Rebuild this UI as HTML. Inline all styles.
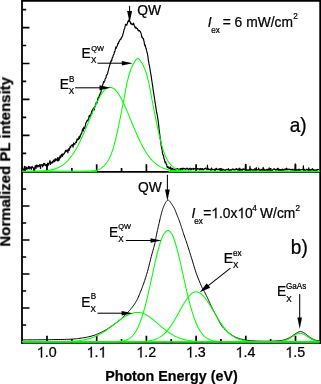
<!DOCTYPE html>
<html><head><meta charset="utf-8"><style>
html,body{margin:0;padding:0;background:#fff;}
svg{display:block;}
text{font-family:"Liberation Sans",sans-serif;fill:#000;}
.tx{filter:grayscale(1);}
.tx text,.tx path{stroke:#000;stroke-width:0.25px;}
</style></head><body>
<svg width="321" height="384" viewBox="0 0 321 384">
<rect width="321" height="384" fill="#fff"/>
<path d="M22,153.33h4.2 M22,325.00h4.2 M22,135.36h7.5 M22,308.00h7.5 M22,117.39h4.2 M22,291.00h4.2 M22,99.42h7.5 M22,274.00h7.5 M22,81.45h4.2 M22,257.00h4.2 M22,63.48h7.5 M22,240.00h7.5 M22,45.51h4.2 M22,223.00h4.2 M22,27.54h7.5 M22,206.00h7.5 M22,9.57h4.2 M22,189.00h4.2 M47.00,171.85v-7.6 M47.00,343.0v-7.3 M71.85,171.85v-3.8 M71.85,343.0v-3.9 M96.70,171.85v-7.6 M96.70,343.0v-7.3 M121.55,171.85v-3.8 M121.55,343.0v-3.9 M146.40,171.85v-7.6 M146.40,343.0v-7.3 M171.25,171.85v-3.8 M171.25,343.0v-3.9 M196.10,171.85v-7.6 M196.10,343.0v-7.3 M220.95,171.85v-3.8 M220.95,343.0v-3.9 M245.80,171.85v-7.6 M245.80,343.0v-7.3 M270.65,171.85v-3.8 M270.65,343.0v-3.9 M295.50,171.85v-7.6 M295.50,343.0v-7.3" stroke="#000" stroke-width="1.7" fill="none"/><path d="M22,0 V343.75 M320.2,0 V343.75 M21.1,0.8 H321.0" stroke="#000" stroke-width="1.8" fill="none"/><path d="M21.1,343.0 H321.09999999999997" stroke="#000" stroke-width="1.5" fill="none"/><path d="M22,171.85 H320.2" stroke="#000" stroke-width="1.9" fill="none"/><path d="M22.30,167.64 L22.60,168.64 L22.90,168.66 L23.20,169.13 L23.50,169.85 L23.80,170.29 L24.10,170.80 L24.40,166.41 L24.70,169.49 L25.00,168.64 L25.30,170.80 L25.60,169.60 L25.90,166.61 L26.20,168.73 L26.50,167.62 L26.80,169.45 L27.10,167.35 L27.40,168.55 L27.70,168.67 L28.00,168.63 L28.30,167.89 L28.60,166.30 L28.90,168.62 L29.20,169.00 L29.50,167.66 L29.80,166.57 L30.10,167.87 L30.40,168.23 L30.70,167.43 L31.00,167.76 L31.30,169.47 L31.60,166.84 L31.90,167.61 L32.20,166.27 L32.50,167.70 L32.80,167.77 L33.10,167.63 L33.40,167.82 L33.70,170.40 L34.00,168.04 L34.30,167.96 L34.60,170.34 L34.90,167.68 L35.20,165.60 L35.50,167.69 L35.80,165.96 L36.10,168.54 L36.40,165.12 L36.70,166.00 L37.00,165.02 L37.30,167.03 L37.60,165.54 L37.90,166.32 L38.20,165.71 L38.50,165.28 L38.80,166.83 L39.10,166.67 L39.40,165.58 L39.70,164.61 L40.00,164.51 L40.30,166.07 L40.60,168.49 L40.90,165.35 L41.20,164.93 L41.50,164.97 L41.80,164.47 L42.10,164.54 L42.40,165.32 L42.70,167.02 L43.00,165.34 L43.30,164.68 L43.60,163.36 L43.90,165.26 L44.20,164.88 L44.50,163.44 L44.80,163.47 L45.10,164.50 L45.40,165.60 L45.70,165.32 L46.00,164.99 L46.30,164.54 L46.60,165.25 L46.90,164.71 L47.20,166.94 L47.50,163.13 L47.80,163.79 L48.10,165.41 L48.40,163.48 L48.70,165.02 L49.00,163.08 L49.30,162.97 L49.60,162.07 L49.90,160.69 L50.20,160.98 L50.50,164.33 L50.80,162.44 L51.10,162.41 L51.40,162.91 L51.70,162.61 L52.00,163.13 L52.30,161.59 L52.60,161.52 L52.90,162.73 L53.20,161.15 L53.50,159.97 L53.80,161.08 L54.10,160.62 L54.40,161.77 L54.70,159.83 L55.00,158.99 L55.30,159.33 L55.60,160.93 L55.90,158.70 L56.20,158.85 L56.50,158.98 L56.80,159.58 L57.10,160.57 L57.40,160.99 L57.70,157.51 L58.00,160.68 L58.30,159.04 L58.60,158.35 L58.90,160.77 L59.20,157.38 L59.50,159.14 L59.80,157.68 L60.10,155.71 L60.40,157.22 L60.70,157.52 L61.00,156.75 L61.30,154.47 L61.60,155.80 L61.90,155.37 L62.20,153.91 L62.50,156.51 L62.80,154.64 L63.10,154.57 L63.40,154.73 L63.70,153.93 L64.00,153.33 L64.30,153.56 L64.60,153.19 L64.90,151.85 L65.20,151.78 L65.50,150.28 L65.80,151.84 L66.10,150.37 L66.40,151.26 L66.70,150.34 L67.00,150.86 L67.30,151.49 L67.60,149.77 L67.90,152.89 L68.20,150.13 L68.50,149.68 L68.80,148.63 L69.10,150.42 L69.40,149.79 L69.70,148.39 L70.00,146.51 L70.30,147.02 L70.60,147.77 L70.90,146.38 L71.20,145.43 L71.50,145.12 L71.80,145.20 L72.10,145.62 L72.40,144.66 L72.70,144.95 L73.00,147.26 L73.30,145.95 L73.60,142.95 L73.90,143.99 L74.20,143.76 L74.50,143.57 L74.80,144.72 L75.10,143.25 L75.40,142.71 L75.70,142.11 L76.00,141.83 L76.30,142.59 L76.60,141.55 L76.90,139.15 L77.20,139.63 L77.50,138.92 L77.80,140.05 L78.10,139.09 L78.40,139.38 L78.70,138.36 L79.00,136.49 L79.30,138.60 L79.60,138.20 L79.90,137.76 L80.20,135.31 L80.50,135.88 L80.80,134.38 L81.10,133.63 L81.40,134.09 L81.70,133.50 L82.00,131.68 L82.30,130.23 L82.60,128.81 L82.90,129.96 L83.20,131.13 L83.50,129.59 L83.80,127.10 L84.10,127.83 L84.40,128.17 L84.70,128.49 L85.00,127.13 L85.30,125.54 L85.60,124.60 L85.90,122.63 L86.20,122.45 L86.50,121.94 L86.80,120.90 L87.10,121.08 L87.40,120.04 L87.70,120.13 L88.00,120.58 L88.30,119.34 L88.60,118.47 L88.90,117.28 L89.20,115.63 L89.50,116.60 L89.80,116.87 L90.10,115.05 L90.40,116.73 L90.70,114.48 L91.00,114.41 L91.30,113.01 L91.60,111.40 L91.90,113.87 L92.20,110.12 L92.50,111.42 L92.80,109.35 L93.10,109.47 L93.40,107.89 L93.70,108.08 L94.00,109.16 L94.30,109.94 L94.60,106.61 L94.90,106.61 L95.20,106.65 L95.50,104.29 L95.80,104.69 L96.10,102.52 L96.40,103.40 L96.70,102.78 L97.00,103.06 L97.30,101.46 L97.60,99.09 L97.90,99.94 L98.20,97.35 L98.50,98.19 L98.80,97.98 L99.10,96.53 L99.40,94.86 L99.70,95.93 L100.00,94.32 L100.30,93.21 L100.60,92.97 L100.90,92.51 L101.20,90.37 L101.50,89.38 L101.80,88.00 L102.10,86.23 L102.40,85.70 L102.70,85.04 L103.00,83.89 L103.30,83.08 L103.60,81.51 L103.90,82.59 L104.20,81.74 L104.50,81.28 L104.80,80.79 L105.10,79.18 L105.40,78.34 L105.70,78.02 L106.00,77.89 L106.30,75.39 L106.60,75.43 L106.90,74.50 L107.20,74.42 L107.50,74.16 L107.80,72.53 L108.10,71.05 L108.40,70.40 L108.70,68.92 L109.00,66.99 L109.30,67.06 L109.60,65.32 L109.90,64.89 L110.20,62.86 L110.50,63.04 L110.80,60.97 L111.10,61.70 L111.40,59.76 L111.70,60.85 L112.00,59.18 L112.30,57.69 L112.60,57.46 L112.90,56.86 L113.20,55.31 L113.50,54.74 L113.80,54.50 L114.10,53.69 L114.40,51.67 L114.70,52.08 L115.00,50.98 L115.30,49.42 L115.60,48.34 L115.90,46.95 L116.20,48.34 L116.50,47.24 L116.80,46.77 L117.10,46.31 L117.40,45.34 L117.70,44.02 L118.00,43.19 L118.30,43.68 L118.60,43.03 L118.90,41.52 L119.20,41.23 L119.50,41.16 L119.80,40.13 L120.10,39.50 L120.40,39.36 L120.70,38.80 L121.00,39.19 L121.30,37.78 L121.60,37.54 L121.90,37.25 L122.20,36.58 L122.50,35.69 L122.80,35.12 L123.10,33.20 L123.40,32.96 L123.70,31.48 L124.00,29.59 L124.30,28.92 L124.60,28.93 L124.90,27.40 L125.20,25.95 L125.50,24.21 L125.80,24.65 L126.10,24.41 L126.40,24.53 L126.70,25.38 L127.00,24.37 L127.30,23.94 L127.60,22.42 L127.90,21.48 L128.20,21.21 L128.50,20.43 L128.80,21.64 L129.10,19.64 L129.40,20.06 L129.70,21.56 L130.00,21.75 L130.30,21.86 L130.60,23.80 L130.90,23.33 L131.20,23.10 L131.50,24.15 L131.80,24.40 L132.10,24.07 L132.40,24.62 L132.70,24.70 L133.00,23.84 L133.30,23.24 L133.60,23.06 L133.90,24.20 L134.20,25.52 L134.50,26.05 L134.80,26.90 L135.10,27.80 L135.40,27.37 L135.70,28.08 L136.00,27.01 L136.30,28.36 L136.60,28.45 L136.90,28.47 L137.20,28.60 L137.50,28.61 L137.80,29.59 L138.10,30.55 L138.40,30.13 L138.70,30.83 L139.00,30.36 L139.30,30.97 L139.60,30.49 L139.90,31.36 L140.20,31.26 L140.50,32.32 L140.80,32.78 L141.10,33.46 L141.40,34.89 L141.70,36.62 L142.00,37.44 L142.30,36.93 L142.60,38.00 L142.90,38.52 L143.20,38.91 L143.50,38.66 L143.80,40.84 L144.10,41.46 L144.40,43.82 L144.70,44.93 L145.00,46.16 L145.30,45.06 L145.60,47.03 L145.90,48.10 L146.20,48.59 L146.50,50.40 L146.80,51.33 L147.10,52.53 L147.40,53.74 L147.70,55.22 L148.00,57.17 L148.30,60.22 L148.60,61.35 L148.90,63.17 L149.20,64.53 L149.50,66.22 L149.80,67.90 L150.10,69.50 L150.40,71.80 L150.70,73.31 L151.00,75.49 L151.30,76.79 L151.60,79.37 L151.90,81.06 L152.20,83.27 L152.50,85.07 L152.80,86.87 L153.10,89.54 L153.40,91.07 L153.70,93.15 L154.00,94.90 L154.30,97.21 L154.60,99.01 L154.90,101.19 L155.20,103.18 L155.50,104.84 L155.80,106.57 L156.10,109.04 L156.40,111.06 L156.70,112.73 L157.00,113.75 L157.30,115.73 L157.60,117.25 L157.90,119.13 L158.20,121.36 L158.50,123.60 L158.80,126.35 L159.10,129.21 L159.40,131.44 L159.70,133.77 L160.00,136.68 L160.30,139.30 L160.60,140.12 L160.90,143.05 L161.20,145.85 L161.50,147.13 L161.80,148.96 L162.10,149.58 L162.40,152.53 L162.70,154.47 L163.00,154.37 L163.30,155.21 L163.60,156.06 L163.90,158.60 L164.20,159.18 L164.50,159.60 L164.80,161.93 L165.10,162.37 L165.40,162.90 L165.70,161.80 L166.00,163.45 L166.30,164.45 L166.60,163.97 L166.90,166.26 L167.20,167.35 L167.50,167.51 L167.80,166.46 L168.10,166.61 L168.40,167.89 L168.70,168.03 L169.00,168.33 L169.30,168.47 L169.60,167.70 L169.90,167.61 L170.20,166.72 L170.50,169.04 L170.80,167.87 L171.10,168.32 L171.40,169.28 L171.70,169.03 L172.00,168.21 L172.30,169.16 L172.60,169.04 L172.90,168.57 L173.20,169.36 L173.50,170.80 L173.80,169.84 L174.10,170.21 L174.40,169.47 L174.70,168.83 L175.00,169.44 L175.30,170.07 L175.60,169.86 L175.90,170.59 L176.20,169.20 L176.50,169.28 L176.80,168.73 L177.10,169.34 L177.40,168.93 L177.70,168.53 L178.00,169.49 L178.30,169.20 L178.60,169.97 L178.90,170.12 L179.20,169.58 L179.50,168.97 L179.80,169.03 L180.10,169.00 L180.40,168.53 L180.70,170.01 L181.00,169.02 L181.30,168.42 L181.60,169.09 L181.90,168.30 L182.20,168.60 L182.50,169.38 L182.80,168.98 L183.10,168.16 L183.40,168.34 L183.70,168.90 L184.00,168.72 L184.30,168.44 L184.60,168.66 L184.90,168.69 L185.20,169.14 L185.50,169.75 L185.80,169.31 L186.10,169.14 L186.40,168.40 L186.70,168.67 L187.00,168.03 L187.30,168.76 L187.60,168.59 L187.90,169.27 L188.20,169.06 L188.50,170.06 L188.80,169.57 L189.10,168.62 L189.40,169.25 L189.70,168.89 L190.00,168.14 L190.30,169.11 L190.60,168.79 L190.90,169.97 L191.20,168.67 L191.50,168.76 L191.80,169.42 L192.10,169.24 L192.40,168.85 L192.70,168.88 L193.00,168.60 L193.30,168.24 L193.60,169.45 L193.90,168.97 L194.20,168.98 L194.50,168.69 L194.80,168.51 L195.10,168.52 L195.40,168.83 L195.70,168.80 L196.00,168.40 L196.30,168.67 L196.60,168.90 L196.90,168.97 L197.20,168.65 L197.50,169.27 L197.80,168.55 L198.10,169.16 L198.40,168.91 L198.70,168.96 L199.00,168.83 L199.30,169.03 L199.60,169.39 L199.90,170.09 L200.20,168.23 L200.50,169.08 L200.80,168.68 L201.10,169.41 L201.40,169.72 L201.70,168.82 L202.00,168.58 L202.30,169.61 L202.60,168.65 L202.90,169.56 L203.20,169.88 L203.50,169.22 L203.80,169.60 L204.10,169.16 L204.40,168.71 L204.70,168.48 L205.00,168.56 L205.30,168.57 L205.60,168.01 L205.90,168.80 L206.20,168.99 L206.50,168.76 L206.80,169.38 L207.10,169.75 L207.40,165.13 L207.70,169.06 L208.00,169.19 L208.30,168.80 L208.60,169.74 L208.90,169.12 L209.20,169.30 L209.50,169.39 L209.80,169.65 L210.10,169.42 L210.40,169.22 L210.70,169.61 L211.00,170.49 L211.30,169.39 L211.60,167.95 L211.90,169.23 L212.20,169.10 L212.50,169.61 L212.80,169.78 L213.10,169.65 L213.40,169.70 L213.70,169.72 L214.00,169.46 L214.30,169.83 L214.60,170.32 L214.90,169.09 L215.20,170.68 L215.50,168.92 L215.80,169.68 L216.10,168.86 L216.40,168.28 L216.70,168.82 L217.00,169.50 L217.30,169.61 L217.60,169.38 L217.90,169.40 L218.20,169.54 L218.50,169.21 L218.80,169.64 L219.10,169.14 L219.40,168.72 L219.70,170.26 L220.00,170.05 L220.30,170.14 L220.60,170.00 L220.90,170.66 L221.20,169.71 L221.50,170.66 L221.80,170.80 L222.10,169.92 L222.40,169.12 L222.70,169.88 L223.00,170.08 L223.30,169.97 L223.60,169.29 L223.90,169.84 L224.20,169.99 L224.50,170.26 L224.80,169.97 L225.10,170.34 L225.40,170.40 L225.70,169.73 L226.00,169.62 L226.30,169.72 L226.60,169.32 L226.90,169.74 L227.20,169.97 L227.50,169.62 L227.80,169.46 L228.10,169.92 L228.40,168.47 L228.70,170.03 L229.00,169.74 L229.30,170.80 L229.60,169.91 L229.90,170.52 L230.20,170.30 L230.50,169.67 L230.80,170.16 L231.10,170.07 L231.40,170.13 L231.70,169.53 L232.00,169.38 L232.30,169.40 L232.60,169.71 L232.90,168.89 L233.20,169.35 L233.50,169.57 L233.80,169.89 L234.10,169.27 L234.40,169.98 L234.70,170.05 L235.00,170.01 L235.30,169.40 L235.60,169.39 L235.90,168.73 L236.20,169.50 L236.50,168.54 L236.80,169.11 L237.10,169.38 L237.40,169.45 L237.70,170.20 L238.00,168.93 L238.30,169.97 L238.60,169.78 L238.90,168.94 L239.20,170.78 L239.50,170.03 L239.80,168.08 L240.10,169.77 L240.40,170.24 L240.70,169.43 L241.00,169.72 L241.30,170.18 L241.60,169.57 L241.90,169.27 L242.20,170.17 L242.50,170.30 L242.80,169.25 L243.10,168.83 L243.40,169.41 L243.70,169.48 L244.00,169.04 L244.30,169.57 L244.60,170.04 L244.90,170.00 L245.20,169.98 L245.50,164.23 L245.80,170.36 L246.10,170.56 L246.40,170.80 L246.70,170.11 L247.00,170.68 L247.30,170.10 L247.60,169.85 L247.90,169.80 L248.20,170.80 L248.50,169.76 L248.80,170.00 L249.10,170.40 L249.40,169.07 L249.70,169.40 L250.00,166.43 L250.30,170.60 L250.60,169.07 L250.90,168.96 L251.20,169.84 L251.50,169.74 L251.80,169.66 L252.10,170.09 L252.40,169.90 L252.70,170.17 L253.00,170.20 L253.30,169.53 L253.60,170.06 L253.90,170.25 L254.20,169.75 L254.50,170.07 L254.80,168.58 L255.10,168.95 L255.40,169.38 L255.70,170.45 L256.00,170.42 L256.30,167.48 L256.60,170.29 L256.90,169.79 L257.20,169.68 L257.50,169.59 L257.80,169.97 L258.10,169.91 L258.40,169.25 L258.70,168.03 L259.00,169.86 L259.30,169.37 L259.60,170.02 L259.90,170.64 L260.20,170.41 L260.50,169.94 L260.80,170.80 L261.10,169.15 L261.40,170.16 L261.70,170.09 L262.00,169.86 L262.30,169.33 L262.60,170.38 L262.90,170.12 L263.20,167.26 L263.50,170.13 L263.80,169.11 L264.10,170.20 L264.40,169.24 L264.70,170.80 L265.00,170.80 L265.30,170.05 L265.60,170.80 L265.90,169.87 L266.20,170.12 L266.50,169.85 L266.80,169.32 L267.10,169.57 L267.40,170.74 L267.70,169.43 L268.00,170.48 L268.30,169.22 L268.60,169.70 L268.90,170.18 L269.20,167.77 L269.50,169.58 L269.80,170.09 L270.10,170.07 L270.40,170.77 L270.70,170.80 L271.00,170.80 L271.30,170.26 L271.60,170.61 L271.90,169.94 L272.20,170.59 L272.50,169.97 L272.80,170.07 L273.10,169.27 L273.40,169.18 L273.70,168.78 L274.00,168.82 L274.30,168.83 L274.60,169.43 L274.90,169.43 L275.20,169.31 L275.50,169.69 L275.80,170.30 L276.10,169.91 L276.40,169.95 L276.70,169.40 L277.00,169.51 L277.30,168.40 L277.60,170.00 L277.90,169.54 L278.20,168.23 L278.50,170.46 L278.80,170.50 L279.10,170.02 L279.40,169.27 L279.70,170.13 L280.00,169.61 L280.30,170.66 L280.60,169.61 L280.90,169.55 L281.20,170.18 L281.50,169.71 L281.80,170.28 L282.10,169.60 L282.40,169.10 L282.70,170.22 L283.00,169.27 L283.30,170.00 L283.60,169.60 L283.90,170.16 L284.20,169.77 L284.50,169.82 L284.80,169.75 L285.10,168.79 L285.40,168.80 L285.70,169.57 L286.00,169.99 L286.30,169.60 L286.60,168.00 L286.90,169.14 L287.20,169.98 L287.50,169.31 L287.80,169.17 L288.10,169.24 L288.40,169.55 L288.70,169.20 L289.00,169.33 L289.30,169.41 L289.60,169.07 L289.90,169.59 L290.20,169.90 L290.50,169.93 L290.80,169.28 L291.10,170.04 L291.40,169.54 L291.70,169.40 L292.00,169.59 L292.30,170.21 L292.60,169.21 L292.90,169.09 L293.20,170.04 L293.50,169.94 L293.80,169.78 L294.10,170.04 L294.40,169.67 L294.70,169.88 L295.00,170.40 L295.30,163.78 L295.60,170.50 L295.90,170.43 L296.20,169.64 L296.50,170.29 L296.80,170.02 L297.10,170.03 L297.40,169.48 L297.70,170.23 L298.00,170.08 L298.30,169.76 L298.60,170.43 L298.90,169.09 L299.20,169.33 L299.50,169.42 L299.80,170.64 L300.10,170.32 L300.40,170.18 L300.70,169.90 L301.00,169.66 L301.30,169.60 L301.60,169.81 L301.90,169.82 L302.20,169.71 L302.50,169.54 L302.80,169.19 L303.10,169.56 L303.40,165.71 L303.70,170.52 L304.00,169.41 L304.30,169.31 L304.60,169.84 L304.90,169.90 L305.20,170.67 L305.50,170.11 L305.80,169.92 L306.10,169.65 L306.40,169.20 L306.70,169.64 L307.00,170.02 L307.30,169.67 L307.60,169.38 L307.90,170.17 L308.20,169.71 L308.50,170.74 L308.80,167.79 L309.10,170.42 L309.40,169.44 L309.70,169.99 L310.00,170.06 L310.30,170.61 L310.60,169.72 L310.90,169.59 L311.20,169.74 L311.50,169.93 L311.80,169.31 L312.10,170.25 L312.40,168.64 L312.70,169.77 L313.00,169.33 L313.30,169.75 L313.60,170.39 L313.90,169.72 L314.20,170.44 L314.50,170.20 L314.80,170.03 L315.10,169.96 L315.40,170.43 L315.70,169.90 L316.00,170.44 L316.30,169.77 L316.60,169.81 L316.90,170.41 L317.20,169.83 L317.50,169.45 L317.80,169.55 L318.10,169.44 L318.40,169.50 L318.70,169.65 L319.00,169.43" fill="none" stroke="#000" stroke-width="1.15" stroke-linejoin="round"/><path d="M22.00,339.90 L23.41,339.89 L25.30,339.88 L27.56,339.87 L30.06,339.86 L32.68,339.85 L35.29,339.83 L37.77,339.82 L40.00,339.80 L42.02,339.78 L43.96,339.76 L45.84,339.74 L47.69,339.72 L49.51,339.69 L51.32,339.67 L53.15,339.64 L55.00,339.60 L56.91,339.56 L58.87,339.53 L60.84,339.49 L62.81,339.44 L64.74,339.40 L66.60,339.34 L68.36,339.28 L70.00,339.20 L71.49,339.12 L72.85,339.03 L74.12,338.94 L75.31,338.84 L76.47,338.73 L77.62,338.60 L78.78,338.46 L80.00,338.30 L81.27,338.12 L82.56,337.93 L83.86,337.72 L85.16,337.50 L86.43,337.27 L87.68,337.02 L88.87,336.76 L90.00,336.50 L91.06,336.23 L92.05,335.95 L93.00,335.66 L93.91,335.36 L94.80,335.05 L95.68,334.72 L96.58,334.37 L97.50,334.00 L98.44,333.61 L99.38,333.21 L100.32,332.79 L101.26,332.35 L102.19,331.89 L103.13,331.42 L104.07,330.92 L105.00,330.40 L105.93,329.85 L106.85,329.28 L107.78,328.69 L108.70,328.07 L109.62,327.45 L110.55,326.80 L111.47,326.15 L112.40,325.50 L113.36,324.82 L114.35,324.11 L115.35,323.38 L116.36,322.64 L117.33,321.91 L118.26,321.20 L119.12,320.52 L119.90,319.90 L120.58,319.33 L121.17,318.80 L121.70,318.31 L122.18,317.84 L122.63,317.38 L123.07,316.93 L123.52,316.47 L124.00,316.00 L124.50,315.53 L124.98,315.06 L125.47,314.61 L125.95,314.15 L126.43,313.69 L126.92,313.21 L127.40,312.72 L127.90,312.20 L128.40,311.67 L128.90,311.14 L129.40,310.60 L129.90,310.05 L130.41,309.47 L130.93,308.86 L131.46,308.20 L132.00,307.50 L132.56,306.75 L133.15,305.97 L133.74,305.15 L134.35,304.29 L134.96,303.40 L135.55,302.47 L136.14,301.51 L136.70,300.50 L137.25,299.44 L137.78,298.32 L138.31,297.15 L138.82,295.95 L139.33,294.73 L139.83,293.51 L140.32,292.29 L140.80,291.10 L141.27,289.94 L141.71,288.80 L142.15,287.68 L142.58,286.54 L143.01,285.39 L143.43,284.21 L143.86,282.99 L144.30,281.70 L144.75,280.36 L145.20,278.98 L145.65,277.56 L146.11,276.11 L146.56,274.62 L147.01,273.11 L147.46,271.56 L147.90,270.00 L148.34,268.38 L148.77,266.70 L149.20,264.98 L149.62,263.24 L150.05,261.50 L150.47,259.78 L150.89,258.10 L151.30,256.50 L151.72,254.93 L152.16,253.35 L152.61,251.78 L153.04,250.26 L153.46,248.79 L153.85,247.41 L154.20,246.14 L154.50,245.00 L154.74,244.03 L154.91,243.23 L155.05,242.55 L155.16,241.94 L155.25,241.37 L155.35,240.79 L155.46,240.15 L155.60,239.40 L155.76,238.59 L155.92,237.76 L156.09,236.92 L156.26,236.04 L156.45,235.12 L156.65,234.15 L156.86,233.11 L157.10,232.00 L157.37,230.76 L157.68,229.39 L158.01,227.93 L158.35,226.43 L158.69,224.94 L159.02,223.50 L159.33,222.17 L159.60,221.00 L159.83,219.99 L160.04,219.10 L160.22,218.31 L160.39,217.58 L160.56,216.89 L160.73,216.20 L160.90,215.50 L161.10,214.75 L161.31,213.96 L161.52,213.16 L161.74,212.35 L161.96,211.54 L162.19,210.74 L162.42,209.97 L162.66,209.22 L162.90,208.50 L163.15,207.81 L163.42,207.12 L163.69,206.45 L163.97,205.81 L164.24,205.20 L164.51,204.62 L164.76,204.08 L165.00,203.60 L165.22,203.17 L165.42,202.79 L165.61,202.46 L165.79,202.16 L165.97,201.89 L166.15,201.65 L166.32,201.42 L166.50,201.20 L166.68,200.99 L166.85,200.79 L167.02,200.60 L167.19,200.44 L167.36,200.31 L167.54,200.20 L167.72,200.13 L167.90,200.10 L168.09,200.11 L168.28,200.15 L168.48,200.23 L168.68,200.33 L168.88,200.46 L169.08,200.62 L169.29,200.80 L169.50,201.00 L169.70,201.21 L169.89,201.43 L170.08,201.67 L170.28,201.94 L170.48,202.24 L170.71,202.58 L170.96,202.96 L171.25,203.40 L171.58,203.90 L171.95,204.46 L172.36,205.06 L172.78,205.71 L173.20,206.38 L173.63,207.08 L174.03,207.79 L174.40,208.50 L174.74,209.23 L175.07,209.98 L175.39,210.76 L175.69,211.55 L175.99,212.36 L176.29,213.16 L176.59,213.96 L176.90,214.75 L177.21,215.52 L177.53,216.28 L177.84,217.04 L178.15,217.80 L178.46,218.56 L178.78,219.35 L179.09,220.16 L179.40,221.00 L179.72,221.88 L180.03,222.81 L180.36,223.76 L180.67,224.73 L180.99,225.71 L181.30,226.67 L181.61,227.60 L181.90,228.50 L182.17,229.34 L182.42,230.12 L182.66,230.87 L182.90,231.62 L183.14,232.38 L183.40,233.18 L183.68,234.05 L184.00,235.00 L184.35,236.02 L184.71,237.06 L185.09,238.15 L185.49,239.29 L185.91,240.50 L186.36,241.78 L186.82,243.14 L187.30,244.60 L187.81,246.19 L188.36,247.90 L188.93,249.71 L189.53,251.59 L190.13,253.51 L190.73,255.44 L191.32,257.35 L191.90,259.20 L192.46,261.03 L193.02,262.88 L193.57,264.73 L194.12,266.57 L194.67,268.41 L195.24,270.21 L195.81,271.98 L196.40,273.70 L197.03,275.42 L197.69,277.17 L198.38,278.91 L199.08,280.61 L199.75,282.24 L200.39,283.75 L200.98,285.12 L201.50,286.30 L201.93,287.25 L202.29,287.99 L202.60,288.57 L202.87,289.04 L203.13,289.47 L203.39,289.90 L203.67,290.39 L204.00,291.00 L204.37,291.71 L204.76,292.47 L205.17,293.25 L205.58,294.06 L206.00,294.88 L206.41,295.70 L206.81,296.51 L207.20,297.30 L207.57,298.08 L207.94,298.86 L208.30,299.64 L208.65,300.42 L209.00,301.19 L209.34,301.94 L209.67,302.68 L210.00,303.40 L210.32,304.10 L210.64,304.79 L210.94,305.47 L211.24,306.14 L211.54,306.78 L211.83,307.41 L212.12,308.02 L212.40,308.60 L212.67,309.14 L212.93,309.63 L213.17,310.09 L213.41,310.53 L213.66,310.98 L213.92,311.44 L214.20,311.94 L214.50,312.50 L214.83,313.10 L215.17,313.72 L215.52,314.37 L215.89,315.04 L216.28,315.74 L216.67,316.46 L217.08,317.22 L217.50,318.00 L217.94,318.85 L218.40,319.77 L218.87,320.74 L219.36,321.73 L219.85,322.71 L220.34,323.65 L220.82,324.52 L221.30,325.30 L221.77,325.98 L222.23,326.58 L222.68,327.13 L223.14,327.64 L223.59,328.11 L224.06,328.57 L224.52,329.03 L225.00,329.50 L225.46,329.96 L225.89,330.39 L226.31,330.81 L226.74,331.21 L227.20,331.62 L227.72,332.05 L228.31,332.51 L229.00,333.00 L229.78,333.55 L230.63,334.16 L231.54,334.80 L232.51,335.46 L233.53,336.10 L234.61,336.72 L235.73,337.30 L236.90,337.80 L238.11,338.24 L239.38,338.65 L240.70,339.02 L242.07,339.35 L243.48,339.65 L244.95,339.93 L246.45,340.18 L248.00,340.40 L249.60,340.59 L251.25,340.75 L252.95,340.88 L254.69,340.98 L256.48,341.06 L258.29,341.12 L260.13,341.16 L262.00,341.20 L263.97,341.22 L266.09,341.22 L268.29,341.20 L270.50,341.16 L272.64,341.11 L274.66,341.05 L276.46,340.98 L278.00,340.90 L279.23,340.82 L280.20,340.73 L280.98,340.64 L281.62,340.53 L282.19,340.41 L282.73,340.26 L283.32,340.10 L284.00,339.90 L284.76,339.67 L285.52,339.42 L286.29,339.15 L287.06,338.86 L287.82,338.54 L288.57,338.21 L289.30,337.86 L290.00,337.50 L290.67,337.11 L291.32,336.68 L291.94,336.22 L292.55,335.75 L293.15,335.28 L293.76,334.82 L294.37,334.39 L295.00,334.00 L295.64,333.62 L296.30,333.22 L296.95,332.83 L297.61,332.46 L298.27,332.14 L298.92,331.87 L299.57,331.69 L300.20,331.60 L300.82,331.62 L301.42,331.73 L302.02,331.91 L302.61,332.16 L303.20,332.45 L303.80,332.78 L304.39,333.14 L305.00,333.50 L305.62,333.90 L306.24,334.36 L306.86,334.87 L307.49,335.41 L308.12,335.94 L308.75,336.47 L309.37,336.96 L310.00,337.40 L310.63,337.80 L311.26,338.18 L311.90,338.55 L312.53,338.89 L313.16,339.21 L313.79,339.51 L314.40,339.77 L315.00,340.00 L315.62,340.19 L316.27,340.35 L316.92,340.47 L317.56,340.56 L318.16,340.64 L318.70,340.70 L319.16,340.75 L319.50,340.80" fill="none" stroke="#000" stroke-width="1"/><path d="M22.5,171.45 H97 M168.5,171.45 H319.7" stroke="#00ff00" stroke-width="1.2" fill="none"/><path d="M22.5,341.9 H319.7" stroke="#00ff00" stroke-width="1.4" fill="none"/><g fill="none" stroke="#00ff00" stroke-width="1.05"><path d="M22.50,171.44 L23.00,171.44 L23.50,171.43 L24.00,171.43 L24.50,171.43 L25.00,171.43 L25.50,171.43 L26.00,171.42 L26.50,171.42 L27.00,171.42 L27.50,171.42 L28.00,171.41 L28.50,171.41 L29.00,171.41 L29.50,171.40 L30.00,171.40 L30.50,171.39 L31.00,171.39 L31.50,171.38 L32.00,171.37 L32.50,171.37 L33.00,171.36 L33.50,171.35 L34.00,171.34 L34.50,171.33 L35.00,171.32 L35.50,171.31 L36.00,171.29 L36.50,171.28 L37.00,171.27 L37.50,171.25 L38.00,171.23 L38.50,171.21 L39.00,171.19 L39.50,171.17 L40.00,171.15 L40.50,171.12 L41.00,171.10 L41.50,171.07 L42.00,171.04 L42.50,171.00 L43.00,170.97 L43.50,170.93 L44.00,170.89 L44.50,170.84 L45.00,170.79 L45.50,170.74 L46.00,170.69 L46.50,170.63 L47.00,170.57 L47.50,170.51 L48.00,170.44 L48.50,170.36 L49.00,170.28 L49.50,170.20 L50.00,170.11 L50.50,170.01 L51.00,169.91 L51.50,169.80 L52.00,169.69 L52.50,169.57 L53.00,169.44 L53.50,169.30 L54.00,169.16 L54.50,169.01 L55.00,168.85 L55.50,168.68 L56.00,168.50 L56.50,168.31 L57.00,168.12 L57.50,167.91 L58.00,167.69 L58.50,167.46 L59.00,167.22 L59.50,166.96 L60.00,166.69 L60.50,166.41 L61.00,166.12 L61.50,165.81 L62.00,165.49 L62.50,165.16 L63.00,164.81 L63.50,164.44 L64.00,164.06 L64.50,163.66 L65.00,163.24 L65.50,162.81 L66.00,162.36 L66.50,161.89 L67.00,161.40 L67.50,160.90 L68.00,160.37 L68.50,159.83 L69.00,159.26 L69.50,158.68 L70.00,158.07 L70.50,157.45 L71.00,156.80 L71.50,156.14 L72.00,155.45 L72.50,154.74 L73.00,154.01 L73.50,153.26 L74.00,152.48 L74.50,151.69 L75.00,150.87 L75.50,150.03 L76.00,149.17 L76.50,148.29 L77.00,147.39 L77.50,146.47 L78.00,145.52 L78.50,144.56 L79.00,143.58 L79.50,142.57 L80.00,141.55 L80.50,140.51 L81.00,139.45 L81.50,138.38 L82.00,137.29 L82.50,136.18 L83.00,135.06 L83.50,133.92 L84.00,132.77 L84.50,131.61 L85.00,130.44 L85.50,129.26 L86.00,128.06 L86.50,126.86 L87.00,125.66 L87.50,124.44 L88.00,123.23 L88.50,122.01 L89.00,120.78 L89.50,119.56 L90.00,118.34 L90.50,117.12 L91.00,115.91 L91.50,114.70 L92.00,113.49 L92.50,112.30 L93.00,111.11 L93.50,109.94 L94.00,108.78 L94.50,107.64 L95.00,106.51 L95.50,105.40 L96.00,104.31 L96.50,103.24 L97.00,102.19 L97.50,101.17 L98.00,100.18 L98.50,99.21 L99.00,98.27 L99.50,97.36 L100.00,96.48 L100.50,95.63 L101.00,94.82 L101.50,94.05 L102.00,93.31 L102.50,92.61 L103.00,91.95 L103.50,91.34 L104.00,90.76 L104.50,90.22 L105.00,89.73 L105.50,89.28 L106.00,88.88 L106.50,88.53 L107.00,88.22 L107.50,87.95 L108.00,87.74 L108.50,87.57 L109.00,87.45 L109.50,87.37 L110.00,87.35 L110.50,87.37 L111.00,87.45 L111.50,87.57 L112.00,87.73 L112.50,87.95 L113.00,88.21 L113.50,88.52 L114.00,88.87 L114.50,89.27 L115.00,89.72 L115.50,90.20 L116.00,90.74 L116.50,91.31 L117.00,91.92 L117.50,92.58 L118.00,93.27 L118.50,94.01 L119.00,94.78 L119.50,95.58 L120.00,96.42 L120.50,97.29 L121.00,98.20 L121.50,99.13 L122.00,100.10 L122.50,101.09 L123.00,102.10 L123.50,103.14 L124.00,104.21 L124.50,105.29 L125.00,106.40 L125.50,107.52 L126.00,108.66 L126.50,109.81 L127.00,110.98 L127.50,112.16 L128.00,113.35 L128.50,114.55 L129.00,115.75 L129.50,116.96 L130.00,118.17 L130.50,119.39 L131.00,120.61 L131.50,121.83 L132.00,123.05 L132.50,124.26 L133.00,125.47 L133.50,126.67 L134.00,127.87 L134.50,129.06 L135.00,130.24 L135.50,131.41 L136.00,132.57 L136.50,133.72 L137.00,134.85 L137.50,135.97 L138.00,137.08 L138.50,138.17 L139.00,139.24 L139.50,140.30 L140.00,141.34 L140.50,142.36 L141.00,143.37 L141.50,144.35 L142.00,145.32 L142.50,146.26 L143.00,147.18 L143.50,148.09 L144.00,148.97 L144.50,149.83 L145.00,150.67 L145.50,151.49 L146.00,152.29 L146.50,153.07 L147.00,153.82 L147.50,154.56 L148.00,155.27 L148.50,155.96 L149.00,156.63 L149.50,157.28 L150.00,157.91 L150.50,158.52 L151.00,159.10 L151.50,159.67 L152.00,160.22 L152.50,160.75 L153.00,161.26 L153.50,161.75 L154.00,162.22 L154.50,162.68 L155.00,163.11 L155.50,163.53 L156.00,163.93 L156.50,164.32 L157.00,164.69 L157.50,165.05 L158.00,165.39 L158.50,165.71 L159.00,166.02 L159.50,166.32 L160.00,166.60 L160.50,166.87 L161.00,167.13 L161.50,167.37 L162.00,167.61 L162.50,167.83 L163.00,168.04 L163.50,168.24 L164.00,168.43 L164.50,168.62 L165.00,168.79 L165.50,168.95 L166.00,169.10 L166.50,169.25 L167.00,169.39 L167.50,169.52 L168.00,169.64 L168.50,169.76 L169.00,169.87 L169.50,169.97 L170.00,170.07 L170.50,170.16 L171.00,170.25 L171.50,170.33 L172.00,170.40 L172.50,170.48 L173.00,170.54 L173.50,170.61 L174.00,170.67 L174.50,170.72 L175.00,170.77 L175.50,170.82 L176.00,170.87 L176.50,170.91 L177.00,170.95 L177.50,170.99 L178.00,171.02 L178.50,171.05 L179.00,171.08 L179.50,171.11 L180.00,171.14 L180.50,171.16 L181.00,171.18 L181.50,171.20 L182.00,171.22 L182.50,171.24 L183.00,171.26 L183.50,171.27 L184.00,171.29 L184.50,171.30 L185.00,171.31 L185.50,171.32 L186.00,171.33 L186.50,171.34 L187.00,171.35 L187.50,171.36 L188.00,171.37 L188.50,171.38 L189.00,171.38 L189.50,171.39 L190.00,171.39 L190.50,171.40 L191.00,171.40 L191.50,171.41 L192.00,171.41 L192.50,171.41 L193.00,171.42 L193.50,171.42 L194.00,171.42 L194.50,171.43 L195.00,171.43 L195.50,171.43 L196.00,171.43 L196.50,171.43 L197.00,171.44 L197.50,171.44 L198.00,171.44 L198.50,171.44 L199.00,171.44 L199.50,171.44 L200.00,171.44 L200.50,171.44 L201.00,171.44 L201.50,171.44 L202.00,171.44 L202.50,171.45 L203.00,171.45 L203.50,171.45 L204.00,171.45 L204.50,171.45 L205.00,171.45 L205.50,171.45 L206.00,171.45 L206.50,171.45 L207.00,171.45 L207.50,171.45 L208.00,171.45 L208.50,171.45 L209.00,171.45 L209.50,171.45 L210.00,171.45 L210.50,171.45 L211.00,171.45 L211.50,171.45 L212.00,171.45 L212.50,171.45 L213.00,171.45 L213.50,171.45 L214.00,171.45 L214.50,171.45 L215.00,171.45 L215.50,171.45 L216.00,171.45 L216.50,171.45 L217.00,171.45 L217.50,171.45 L218.00,171.45 L218.50,171.45 L219.00,171.45 L219.50,171.45 L220.00,171.45 L220.50,171.45 L221.00,171.45 L221.50,171.45 L222.00,171.45 L222.50,171.45 L223.00,171.45 L223.50,171.45 L224.00,171.45 L224.50,171.45 L225.00,171.45 L225.50,171.45 L226.00,171.45 L226.50,171.45 L227.00,171.45 L227.50,171.45 L228.00,171.45 L228.50,171.45 L229.00,171.45 L229.50,171.45 L230.00,171.45 L230.50,171.45 L231.00,171.45 L231.50,171.45 L232.00,171.45 L232.50,171.45 L233.00,171.45 L233.50,171.45 L234.00,171.45 L234.50,171.45 L235.00,171.45 L235.50,171.45 L236.00,171.45 L236.50,171.45 L237.00,171.45 L237.50,171.45 L238.00,171.45 L238.50,171.45 L239.00,171.45 L239.50,171.45 L240.00,171.45 L240.50,171.45 L241.00,171.45 L241.50,171.45 L242.00,171.45 L242.50,171.45 L243.00,171.45 L243.50,171.45 L244.00,171.45 L244.50,171.45 L245.00,171.45 L245.50,171.45 L246.00,171.45 L246.50,171.45 L247.00,171.45 L247.50,171.45 L248.00,171.45 L248.50,171.45 L249.00,171.45 L249.50,171.45 L250.00,171.45 L250.50,171.45 L251.00,171.45 L251.50,171.45 L252.00,171.45 L252.50,171.45 L253.00,171.45 L253.50,171.45 L254.00,171.45 L254.50,171.45 L255.00,171.45 L255.50,171.45 L256.00,171.45 L256.50,171.45 L257.00,171.45 L257.50,171.45 L258.00,171.45 L258.50,171.45 L259.00,171.45 L259.50,171.45 L260.00,171.45 L260.50,171.45 L261.00,171.45 L261.50,171.45 L262.00,171.45 L262.50,171.45 L263.00,171.45 L263.50,171.45 L264.00,171.45 L264.50,171.45 L265.00,171.45 L265.50,171.45 L266.00,171.45 L266.50,171.45 L267.00,171.45 L267.50,171.45 L268.00,171.45 L268.50,171.45 L269.00,171.45 L269.50,171.45 L270.00,171.45 L270.50,171.45 L271.00,171.45 L271.50,171.45 L272.00,171.45 L272.50,171.45 L273.00,171.45 L273.50,171.45 L274.00,171.45 L274.50,171.45 L275.00,171.45 L275.50,171.45 L276.00,171.45 L276.50,171.45 L277.00,171.45 L277.50,171.45 L278.00,171.45 L278.50,171.45 L279.00,171.45 L279.50,171.45 L280.00,171.45 L280.50,171.45 L281.00,171.45 L281.50,171.45 L282.00,171.45 L282.50,171.45 L283.00,171.45 L283.50,171.45 L284.00,171.45 L284.50,171.45 L285.00,171.45 L285.50,171.45 L286.00,171.45 L286.50,171.45 L287.00,171.45 L287.50,171.45 L288.00,171.45 L288.50,171.45 L289.00,171.45 L289.50,171.45 L290.00,171.45 L290.50,171.45 L291.00,171.45 L291.50,171.45 L292.00,171.45 L292.50,171.45 L293.00,171.45 L293.50,171.45 L294.00,171.45 L294.50,171.45 L295.00,171.45 L295.50,171.45 L296.00,171.45 L296.50,171.45 L297.00,171.45 L297.50,171.45 L298.00,171.45 L298.50,171.45 L299.00,171.45 L299.50,171.45 L300.00,171.45 L300.50,171.45 L301.00,171.45 L301.50,171.45 L302.00,171.45 L302.50,171.45 L303.00,171.45 L303.50,171.45 L304.00,171.45 L304.50,171.45 L305.00,171.45 L305.50,171.45 L306.00,171.45 L306.50,171.45 L307.00,171.45 L307.50,171.45 L308.00,171.45 L308.50,171.45 L309.00,171.45 L309.50,171.45 L310.00,171.45 L310.50,171.45 L311.00,171.45 L311.50,171.45 L312.00,171.45 L312.50,171.45 L313.00,171.45 L313.50,171.45 L314.00,171.45 L314.50,171.45 L315.00,171.45 L315.50,171.45 L316.00,171.45 L316.50,171.45 L317.00,171.45 L317.50,171.45 L318.00,171.45 L318.50,171.45 L319.00,171.45 L319.50,171.45"/><path d="M22.50,171.45 L23.00,171.45 L23.50,171.45 L24.00,171.45 L24.50,171.45 L25.00,171.45 L25.50,171.45 L26.00,171.45 L26.50,171.45 L27.00,171.45 L27.50,171.45 L28.00,171.45 L28.50,171.45 L29.00,171.45 L29.50,171.45 L30.00,171.45 L30.50,171.45 L31.00,171.45 L31.50,171.45 L32.00,171.45 L32.50,171.45 L33.00,171.45 L33.50,171.45 L34.00,171.45 L34.50,171.45 L35.00,171.45 L35.50,171.45 L36.00,171.45 L36.50,171.45 L37.00,171.45 L37.50,171.45 L38.00,171.45 L38.50,171.45 L39.00,171.45 L39.50,171.45 L40.00,171.45 L40.50,171.45 L41.00,171.45 L41.50,171.45 L42.00,171.45 L42.50,171.45 L43.00,171.45 L43.50,171.45 L44.00,171.45 L44.50,171.45 L45.00,171.45 L45.50,171.45 L46.00,171.45 L46.50,171.45 L47.00,171.45 L47.50,171.45 L48.00,171.45 L48.50,171.45 L49.00,171.45 L49.50,171.45 L50.00,171.45 L50.50,171.45 L51.00,171.45 L51.50,171.45 L52.00,171.45 L52.50,171.45 L53.00,171.45 L53.50,171.45 L54.00,171.45 L54.50,171.45 L55.00,171.45 L55.50,171.45 L56.00,171.45 L56.50,171.45 L57.00,171.45 L57.50,171.45 L58.00,171.45 L58.50,171.45 L59.00,171.45 L59.50,171.45 L60.00,171.45 L60.50,171.45 L61.00,171.45 L61.50,171.45 L62.00,171.45 L62.50,171.45 L63.00,171.45 L63.50,171.45 L64.00,171.45 L64.50,171.45 L65.00,171.45 L65.50,171.45 L66.00,171.45 L66.50,171.45 L67.00,171.45 L67.50,171.45 L68.00,171.45 L68.50,171.45 L69.00,171.45 L69.50,171.45 L70.00,171.45 L70.50,171.45 L71.00,171.45 L71.50,171.45 L72.00,171.45 L72.50,171.45 L73.00,171.45 L73.50,171.45 L74.00,171.45 L74.50,171.45 L75.00,171.45 L75.50,171.45 L76.00,171.45 L76.50,171.45 L77.00,171.45 L77.50,171.45 L78.00,171.45 L78.50,171.45 L79.00,171.45 L79.50,171.45 L80.00,171.45 L80.50,171.45 L81.00,171.45 L81.50,171.44 L82.00,171.44 L82.50,171.43 L83.00,171.42 L83.50,171.41 L84.00,171.40 L84.50,171.39 L85.00,171.37 L85.50,171.36 L86.00,171.34 L86.50,171.33 L87.00,171.31 L87.50,171.29 L88.00,171.27 L88.50,171.25 L89.00,171.23 L89.50,171.20 L90.00,171.18 L90.50,171.15 L91.00,171.13 L91.50,171.10 L92.00,171.06 L92.50,171.01 L93.00,170.94 L93.50,170.86 L94.00,170.77 L94.50,170.67 L95.00,170.56 L95.50,170.44 L96.00,170.31 L96.50,170.17 L97.00,170.02 L97.50,169.86 L98.00,169.69 L98.50,169.52 L99.00,169.34 L99.50,169.15 L100.00,168.91 L100.50,168.64 L101.00,168.33 L101.50,167.98 L102.00,167.60 L102.50,167.19 L103.00,166.75 L103.50,166.27 L104.00,165.78 L104.50,165.25 L105.00,164.70 L105.50,164.13 L106.00,163.54 L106.50,162.92 L107.00,162.29 L107.50,161.59 L108.00,160.79 L108.50,159.92 L109.00,158.96 L109.50,157.93 L110.00,156.84 L110.50,155.68 L111.00,154.46 L111.50,153.20 L112.00,151.89 L112.50,150.52 L113.00,148.99 L113.50,147.32 L114.00,145.54 L114.50,143.65 L115.00,141.68 L115.50,139.66 L116.00,137.59 L116.50,135.51 L117.00,133.38 L117.50,131.12 L118.00,128.77 L118.50,126.37 L119.00,123.95 L119.50,121.53 L120.00,119.07 L120.50,116.59 L121.00,114.07 L121.50,111.55 L122.00,109.02 L122.50,106.47 L123.00,103.91 L123.50,101.33 L124.00,98.73 L124.50,96.08 L125.00,93.31 L125.50,90.51 L126.00,87.79 L126.50,85.23 L127.00,82.95 L127.50,80.83 L128.00,78.79 L128.50,76.85 L129.00,75.03 L129.50,73.33 L130.00,71.77 L130.50,70.36 L131.00,69.05 L131.50,67.81 L132.00,66.65 L132.50,65.57 L133.00,64.58 L133.50,63.70 L134.00,62.92 L134.50,62.14 L135.00,61.37 L135.50,60.62 L136.00,59.93 L136.50,59.35 L137.00,58.90 L137.50,58.62 L138.00,58.55 L138.50,58.71 L139.00,59.06 L139.50,59.57 L140.00,60.20 L140.50,60.91 L141.00,61.68 L141.50,62.46 L142.00,63.22 L142.50,64.04 L143.00,64.97 L143.50,65.99 L144.00,67.10 L144.50,68.30 L145.00,69.57 L145.50,70.90 L146.00,72.37 L146.50,73.99 L147.00,75.74 L147.50,77.62 L148.00,79.60 L148.50,81.67 L149.00,83.83 L149.50,86.23 L150.00,88.86 L150.50,91.63 L151.00,94.43 L151.50,97.16 L152.00,99.77 L152.50,102.36 L153.00,104.94 L153.50,107.49 L154.00,110.03 L154.50,112.56 L155.00,115.08 L155.50,117.58 L156.00,120.06 L156.50,122.50 L157.00,124.91 L157.50,127.33 L158.00,129.72 L158.50,132.04 L159.00,134.25 L159.50,136.35 L160.00,138.42 L160.50,140.47 L161.00,142.48 L161.50,144.42 L162.00,146.27 L162.50,148.01 L163.00,149.62 L163.50,151.08 L164.00,152.42 L164.50,153.71 L165.00,154.96 L165.50,156.15 L166.00,157.28 L166.50,158.35 L167.00,159.35 L167.50,160.28 L168.00,161.12 L168.50,161.88 L169.00,162.55 L169.50,163.17 L170.00,163.78 L170.50,164.36 L171.00,164.92 L171.50,165.46 L172.00,165.98 L172.50,166.47 L173.00,166.93 L173.50,167.36 L174.00,167.76 L174.50,168.12 L175.00,168.45 L175.50,168.75 L176.00,169.01 L176.50,169.23 L177.00,169.41 L177.50,169.59 L178.00,169.76 L178.50,169.92 L179.00,170.08 L179.50,170.22 L180.00,170.36 L180.50,170.49 L181.00,170.61 L181.50,170.71 L182.00,170.81 L182.50,170.90 L183.00,170.97 L183.50,171.03 L184.00,171.08 L184.50,171.11 L185.00,171.14 L185.50,171.16 L186.00,171.19 L186.50,171.21 L187.00,171.24 L187.50,171.26 L188.00,171.28 L188.50,171.30 L189.00,171.32 L189.50,171.33 L190.00,171.35 L190.50,171.37 L191.00,171.38 L191.50,171.39 L192.00,171.40 L192.50,171.41 L193.00,171.42 L193.50,171.43 L194.00,171.44 L194.50,171.44 L195.00,171.45 L195.50,171.45 L196.00,171.45 L196.50,171.45 L197.00,171.45 L197.50,171.45 L198.00,171.45 L198.50,171.45 L199.00,171.45 L199.50,171.45 L200.00,171.45 L200.50,171.45 L201.00,171.45 L201.50,171.45 L202.00,171.45 L202.50,171.45 L203.00,171.45 L203.50,171.45 L204.00,171.45 L204.50,171.45 L205.00,171.45 L205.50,171.45 L206.00,171.45 L206.50,171.45 L207.00,171.45 L207.50,171.45 L208.00,171.45 L208.50,171.45 L209.00,171.45 L209.50,171.45 L210.00,171.45 L210.50,171.45 L211.00,171.45 L211.50,171.45 L212.00,171.45 L212.50,171.45 L213.00,171.45 L213.50,171.45 L214.00,171.45 L214.50,171.45 L215.00,171.45 L215.50,171.45 L216.00,171.45 L216.50,171.45 L217.00,171.45 L217.50,171.45 L218.00,171.45 L218.50,171.45 L219.00,171.45 L219.50,171.45 L220.00,171.45 L220.50,171.45 L221.00,171.45 L221.50,171.45 L222.00,171.45 L222.50,171.45 L223.00,171.45 L223.50,171.45 L224.00,171.45 L224.50,171.45 L225.00,171.45 L225.50,171.45 L226.00,171.45 L226.50,171.45 L227.00,171.45 L227.50,171.45 L228.00,171.45 L228.50,171.45 L229.00,171.45 L229.50,171.45 L230.00,171.45 L230.50,171.45 L231.00,171.45 L231.50,171.45 L232.00,171.45 L232.50,171.45 L233.00,171.45 L233.50,171.45 L234.00,171.45 L234.50,171.45 L235.00,171.45 L235.50,171.45 L236.00,171.45 L236.50,171.45 L237.00,171.45 L237.50,171.45 L238.00,171.45 L238.50,171.45 L239.00,171.45 L239.50,171.45 L240.00,171.45 L240.50,171.45 L241.00,171.45 L241.50,171.45 L242.00,171.45 L242.50,171.45 L243.00,171.45 L243.50,171.45 L244.00,171.45 L244.50,171.45 L245.00,171.45 L245.50,171.45 L246.00,171.45 L246.50,171.45 L247.00,171.45 L247.50,171.45 L248.00,171.45 L248.50,171.45 L249.00,171.45 L249.50,171.45 L250.00,171.45 L250.50,171.45 L251.00,171.45 L251.50,171.45 L252.00,171.45 L252.50,171.45 L253.00,171.45 L253.50,171.45 L254.00,171.45 L254.50,171.45 L255.00,171.45 L255.50,171.45 L256.00,171.45 L256.50,171.45 L257.00,171.45 L257.50,171.45 L258.00,171.45 L258.50,171.45 L259.00,171.45 L259.50,171.45 L260.00,171.45 L260.50,171.45 L261.00,171.45 L261.50,171.45 L262.00,171.45 L262.50,171.45 L263.00,171.45 L263.50,171.45 L264.00,171.45 L264.50,171.45 L265.00,171.45 L265.50,171.45 L266.00,171.45 L266.50,171.45 L267.00,171.45 L267.50,171.45 L268.00,171.45 L268.50,171.45 L269.00,171.45 L269.50,171.45 L270.00,171.45 L270.50,171.45 L271.00,171.45 L271.50,171.45 L272.00,171.45 L272.50,171.45 L273.00,171.45 L273.50,171.45 L274.00,171.45 L274.50,171.45 L275.00,171.45 L275.50,171.45 L276.00,171.45 L276.50,171.45 L277.00,171.45 L277.50,171.45 L278.00,171.45 L278.50,171.45 L279.00,171.45 L279.50,171.45 L280.00,171.45 L280.50,171.45 L281.00,171.45 L281.50,171.45 L282.00,171.45 L282.50,171.45 L283.00,171.45 L283.50,171.45 L284.00,171.45 L284.50,171.45 L285.00,171.45 L285.50,171.45 L286.00,171.45 L286.50,171.45 L287.00,171.45 L287.50,171.45 L288.00,171.45 L288.50,171.45 L289.00,171.45 L289.50,171.45 L290.00,171.45 L290.50,171.45 L291.00,171.45 L291.50,171.45 L292.00,171.45 L292.50,171.45 L293.00,171.45 L293.50,171.45 L294.00,171.45 L294.50,171.45 L295.00,171.45 L295.50,171.45 L296.00,171.45 L296.50,171.45 L297.00,171.45 L297.50,171.45 L298.00,171.45 L298.50,171.45 L299.00,171.45 L299.50,171.45 L300.00,171.45 L300.50,171.45 L301.00,171.45 L301.50,171.45 L302.00,171.45 L302.50,171.45 L303.00,171.45 L303.50,171.45 L304.00,171.45 L304.50,171.45 L305.00,171.45 L305.50,171.45 L306.00,171.45 L306.50,171.45 L307.00,171.45 L307.50,171.45 L308.00,171.45 L308.50,171.45 L309.00,171.45 L309.50,171.45 L310.00,171.45 L310.50,171.45 L311.00,171.45 L311.50,171.45 L312.00,171.45 L312.50,171.45 L313.00,171.45 L313.50,171.45 L314.00,171.45 L314.50,171.45 L315.00,171.45 L315.50,171.45 L316.00,171.45 L316.50,171.45 L317.00,171.45 L317.50,171.45 L318.00,171.45 L318.50,171.45 L319.00,171.45 L319.50,171.45"/></g><g fill="none" stroke="#00ff00" stroke-width="1.05"><path d="M22.50,341.80 L23.00,341.80 L23.50,341.80 L24.00,341.80 L24.50,341.80 L25.00,341.80 L25.50,341.80 L26.00,341.80 L26.50,341.80 L27.00,341.80 L27.50,341.80 L28.00,341.80 L28.50,341.80 L29.00,341.80 L29.50,341.80 L30.00,341.80 L30.50,341.80 L31.00,341.80 L31.50,341.80 L32.00,341.80 L32.50,341.80 L33.00,341.80 L33.50,341.80 L34.00,341.80 L34.50,341.80 L35.00,341.80 L35.50,341.80 L36.00,341.80 L36.50,341.80 L37.00,341.80 L37.50,341.80 L38.00,341.80 L38.50,341.80 L39.00,341.80 L39.50,341.80 L40.00,341.80 L40.50,341.80 L41.00,341.80 L41.50,341.80 L42.00,341.79 L42.50,341.79 L43.00,341.79 L43.50,341.79 L44.00,341.79 L44.50,341.79 L45.00,341.79 L45.50,341.79 L46.00,341.79 L46.50,341.79 L47.00,341.79 L47.50,341.79 L48.00,341.79 L48.50,341.78 L49.00,341.78 L49.50,341.78 L50.00,341.78 L50.50,341.78 L51.00,341.78 L51.50,341.77 L52.00,341.77 L52.50,341.77 L53.00,341.77 L53.50,341.76 L54.00,341.76 L54.50,341.76 L55.00,341.75 L55.50,341.75 L56.00,341.75 L56.50,341.74 L57.00,341.74 L57.50,341.73 L58.00,341.73 L58.50,341.72 L59.00,341.72 L59.50,341.71 L60.00,341.70 L60.50,341.70 L61.00,341.69 L61.50,341.68 L62.00,341.67 L62.50,341.66 L63.00,341.65 L63.50,341.64 L64.00,341.63 L64.50,341.62 L65.00,341.60 L65.50,341.59 L66.00,341.57 L66.50,341.56 L67.00,341.54 L67.50,341.52 L68.00,341.50 L68.50,341.48 L69.00,341.46 L69.50,341.44 L70.00,341.42 L70.50,341.39 L71.00,341.36 L71.50,341.34 L72.00,341.31 L72.50,341.27 L73.00,341.24 L73.50,341.21 L74.00,341.17 L74.50,341.13 L75.00,341.09 L75.50,341.05 L76.00,341.00 L76.50,340.95 L77.00,340.90 L77.50,340.85 L78.00,340.79 L78.50,340.73 L79.00,340.67 L79.50,340.61 L80.00,340.54 L80.50,340.47 L81.00,340.40 L81.50,340.32 L82.00,340.24 L82.50,340.16 L83.00,340.07 L83.50,339.98 L84.00,339.88 L84.50,339.78 L85.00,339.68 L85.50,339.57 L86.00,339.46 L86.50,339.34 L87.00,339.22 L87.50,339.09 L88.00,338.96 L88.50,338.83 L89.00,338.69 L89.50,338.54 L90.00,338.39 L90.50,338.23 L91.00,338.07 L91.50,337.90 L92.00,337.73 L92.50,337.55 L93.00,337.37 L93.50,337.18 L94.00,336.98 L94.50,336.78 L95.00,336.57 L95.50,336.35 L96.00,336.13 L96.50,335.91 L97.00,335.67 L97.50,335.43 L98.00,335.19 L98.50,334.94 L99.00,334.68 L99.50,334.41 L100.00,334.14 L100.50,333.87 L101.00,333.59 L101.50,333.30 L102.00,333.00 L102.50,332.70 L103.00,332.40 L103.50,332.09 L104.00,331.77 L104.50,331.45 L105.00,331.12 L105.50,330.78 L106.00,330.45 L106.50,330.10 L107.00,329.75 L107.50,329.40 L108.00,329.05 L108.50,328.68 L109.00,328.32 L109.50,327.95 L110.00,327.58 L110.50,327.21 L111.00,326.83 L111.50,326.45 L112.00,326.07 L112.50,325.68 L113.00,325.30 L113.50,324.91 L114.00,324.53 L114.50,324.14 L115.00,323.75 L115.50,323.36 L116.00,322.98 L116.50,322.59 L117.00,322.20 L117.50,321.82 L118.00,321.44 L118.50,321.06 L119.00,320.69 L119.50,320.31 L120.00,319.95 L120.50,319.58 L121.00,319.22 L121.50,318.87 L122.00,318.52 L122.50,318.18 L123.00,317.84 L123.50,317.51 L124.00,317.19 L124.50,316.87 L125.00,316.56 L125.50,316.26 L126.00,315.97 L126.50,315.69 L127.00,315.42 L127.50,315.16 L128.00,314.91 L128.50,314.66 L129.00,314.43 L129.50,314.21 L130.00,314.00 L130.50,313.81 L131.00,313.62 L131.50,313.45 L132.00,313.29 L132.50,313.14 L133.00,313.01 L133.50,312.89 L134.00,312.78 L134.50,312.68 L135.00,312.60 L135.50,312.53 L136.00,312.48 L136.50,312.44 L137.00,312.41 L137.50,312.40 L138.00,312.40 L138.50,312.42 L139.00,312.46 L139.50,312.51 L140.00,312.58 L140.50,312.67 L141.00,312.78 L141.50,312.90 L142.00,313.04 L142.50,313.19 L143.00,313.37 L143.50,313.55 L144.00,313.76 L144.50,313.97 L145.00,314.21 L145.50,314.45 L146.00,314.71 L146.50,314.99 L147.00,315.27 L147.50,315.57 L148.00,315.88 L148.50,316.21 L149.00,316.54 L149.50,316.89 L150.00,317.24 L150.50,317.60 L151.00,317.98 L151.50,318.36 L152.00,318.75 L152.50,319.14 L153.00,319.54 L153.50,319.95 L154.00,320.36 L154.50,320.78 L155.00,321.20 L155.50,321.63 L156.00,322.06 L156.50,322.49 L157.00,322.92 L157.50,323.35 L158.00,323.79 L158.50,324.22 L159.00,324.66 L159.50,325.09 L160.00,325.52 L160.50,325.95 L161.00,326.38 L161.50,326.81 L162.00,327.23 L162.50,327.65 L163.00,328.07 L163.50,328.48 L164.00,328.88 L164.50,329.28 L165.00,329.68 L165.50,330.07 L166.00,330.46 L166.50,330.83 L167.00,331.21 L167.50,331.57 L168.00,331.93 L168.50,332.28 L169.00,332.63 L169.50,332.97 L170.00,333.30 L170.50,333.62 L171.00,333.93 L171.50,334.24 L172.00,334.54 L172.50,334.83 L173.00,335.12 L173.50,335.40 L174.00,335.66 L174.50,335.92 L175.00,336.18 L175.50,336.42 L176.00,336.66 L176.50,336.89 L177.00,337.11 L177.50,337.33 L178.00,337.54 L178.50,337.74 L179.00,337.93 L179.50,338.12 L180.00,338.30 L180.50,338.47 L181.00,338.64 L181.50,338.80 L182.00,338.95 L182.50,339.10 L183.00,339.24 L183.50,339.37 L184.00,339.50 L184.50,339.63 L185.00,339.74 L185.50,339.86 L186.00,339.96 L186.50,340.07 L187.00,340.17 L187.50,340.26 L188.00,340.35 L188.50,340.43 L189.00,340.51 L189.50,340.59 L190.00,340.66 L190.50,340.73 L191.00,340.80 L191.50,340.86 L192.00,340.92 L192.50,340.97 L193.00,341.03 L193.50,341.07 L194.00,341.12 L194.50,341.17 L195.00,341.21 L195.50,341.25 L196.00,341.28 L196.50,341.32 L197.00,341.35 L197.50,341.38 L198.00,341.41 L198.50,341.44 L199.00,341.46 L199.50,341.49 L200.00,341.51 L200.50,341.53 L201.00,341.55 L201.50,341.57 L202.00,341.58 L202.50,341.60 L203.00,341.62 L203.50,341.63 L204.00,341.64 L204.50,341.65 L205.00,341.67 L205.50,341.68 L206.00,341.69 L206.50,341.69 L207.00,341.70 L207.50,341.71 L208.00,341.72 L208.50,341.72 L209.00,341.73 L209.50,341.74 L210.00,341.74 L210.50,341.75 L211.00,341.75 L211.50,341.75 L212.00,341.76 L212.50,341.76 L213.00,341.77 L213.50,341.77 L214.00,341.77 L214.50,341.77 L215.00,341.78 L215.50,341.78 L216.00,341.78 L216.50,341.78 L217.00,341.78 L217.50,341.78 L218.00,341.79 L218.50,341.79 L219.00,341.79 L219.50,341.79 L220.00,341.79 L220.50,341.79 L221.00,341.79 L221.50,341.79 L222.00,341.79 L222.50,341.79 L223.00,341.79 L223.50,341.80 L224.00,341.80 L224.50,341.80 L225.00,341.80 L225.50,341.80 L226.00,341.80 L226.50,341.80 L227.00,341.80 L227.50,341.80 L228.00,341.80 L228.50,341.80 L229.00,341.80 L229.50,341.80 L230.00,341.80 L230.50,341.80 L231.00,341.80 L231.50,341.80 L232.00,341.80 L232.50,341.80 L233.00,341.80 L233.50,341.80 L234.00,341.80 L234.50,341.80 L235.00,341.80 L235.50,341.80 L236.00,341.80 L236.50,341.80 L237.00,341.80 L237.50,341.80 L238.00,341.80 L238.50,341.80 L239.00,341.80 L239.50,341.80 L240.00,341.80 L240.50,341.80 L241.00,341.80 L241.50,341.80 L242.00,341.80 L242.50,341.80 L243.00,341.80 L243.50,341.80 L244.00,341.80 L244.50,341.80 L245.00,341.80 L245.50,341.80 L246.00,341.80 L246.50,341.80 L247.00,341.80 L247.50,341.80 L248.00,341.80 L248.50,341.80 L249.00,341.80 L249.50,341.80 L250.00,341.80 L250.50,341.80 L251.00,341.80 L251.50,341.80 L252.00,341.80 L252.50,341.80 L253.00,341.80 L253.50,341.80 L254.00,341.80 L254.50,341.80 L255.00,341.80 L255.50,341.80 L256.00,341.80 L256.50,341.80 L257.00,341.80 L257.50,341.80 L258.00,341.80 L258.50,341.80 L259.00,341.80 L259.50,341.80 L260.00,341.80 L260.50,341.80 L261.00,341.80 L261.50,341.80 L262.00,341.80 L262.50,341.80 L263.00,341.80 L263.50,341.80 L264.00,341.80 L264.50,341.80 L265.00,341.80 L265.50,341.80 L266.00,341.80 L266.50,341.80 L267.00,341.80 L267.50,341.80 L268.00,341.80 L268.50,341.80 L269.00,341.80 L269.50,341.80 L270.00,341.80 L270.50,341.80 L271.00,341.80 L271.50,341.80 L272.00,341.80 L272.50,341.80 L273.00,341.80 L273.50,341.80 L274.00,341.80 L274.50,341.80 L275.00,341.80 L275.50,341.80 L276.00,341.80 L276.50,341.80 L277.00,341.80 L277.50,341.80 L278.00,341.80 L278.50,341.80 L279.00,341.80 L279.50,341.80 L280.00,341.80 L280.50,341.80 L281.00,341.80 L281.50,341.80 L282.00,341.80 L282.50,341.80 L283.00,341.80 L283.50,341.80 L284.00,341.80 L284.50,341.80 L285.00,341.80 L285.50,341.80 L286.00,341.80 L286.50,341.80 L287.00,341.80 L287.50,341.80 L288.00,341.80 L288.50,341.80 L289.00,341.80 L289.50,341.80 L290.00,341.80 L290.50,341.80 L291.00,341.80 L291.50,341.80 L292.00,341.80 L292.50,341.80 L293.00,341.80 L293.50,341.80 L294.00,341.80 L294.50,341.80 L295.00,341.80 L295.50,341.80 L296.00,341.80 L296.50,341.80 L297.00,341.80 L297.50,341.80 L298.00,341.80 L298.50,341.80 L299.00,341.80 L299.50,341.80 L300.00,341.80 L300.50,341.80 L301.00,341.80 L301.50,341.80 L302.00,341.80 L302.50,341.80 L303.00,341.80 L303.50,341.80 L304.00,341.80 L304.50,341.80 L305.00,341.80 L305.50,341.80 L306.00,341.80 L306.50,341.80 L307.00,341.80 L307.50,341.80 L308.00,341.80 L308.50,341.80 L309.00,341.80 L309.50,341.80 L310.00,341.80 L310.50,341.80 L311.00,341.80 L311.50,341.80 L312.00,341.80 L312.50,341.80 L313.00,341.80 L313.50,341.80 L314.00,341.80 L314.50,341.80 L315.00,341.80 L315.50,341.80 L316.00,341.80 L316.50,341.80 L317.00,341.80 L317.50,341.80 L318.00,341.80 L318.50,341.80 L319.00,341.80 L319.50,341.80"/><path d="M22.50,341.80 L23.00,341.80 L23.50,341.80 L24.00,341.80 L24.50,341.80 L25.00,341.80 L25.50,341.80 L26.00,341.80 L26.50,341.80 L27.00,341.80 L27.50,341.80 L28.00,341.80 L28.50,341.80 L29.00,341.80 L29.50,341.80 L30.00,341.80 L30.50,341.80 L31.00,341.80 L31.50,341.80 L32.00,341.80 L32.50,341.80 L33.00,341.80 L33.50,341.80 L34.00,341.80 L34.50,341.80 L35.00,341.80 L35.50,341.80 L36.00,341.80 L36.50,341.80 L37.00,341.80 L37.50,341.80 L38.00,341.80 L38.50,341.80 L39.00,341.80 L39.50,341.80 L40.00,341.80 L40.50,341.80 L41.00,341.80 L41.50,341.80 L42.00,341.80 L42.50,341.80 L43.00,341.80 L43.50,341.80 L44.00,341.80 L44.50,341.80 L45.00,341.80 L45.50,341.80 L46.00,341.80 L46.50,341.80 L47.00,341.80 L47.50,341.80 L48.00,341.80 L48.50,341.80 L49.00,341.80 L49.50,341.80 L50.00,341.80 L50.50,341.80 L51.00,341.80 L51.50,341.80 L52.00,341.80 L52.50,341.80 L53.00,341.80 L53.50,341.80 L54.00,341.80 L54.50,341.80 L55.00,341.80 L55.50,341.80 L56.00,341.80 L56.50,341.80 L57.00,341.80 L57.50,341.80 L58.00,341.80 L58.50,341.80 L59.00,341.80 L59.50,341.80 L60.00,341.80 L60.50,341.80 L61.00,341.80 L61.50,341.80 L62.00,341.80 L62.50,341.80 L63.00,341.80 L63.50,341.80 L64.00,341.80 L64.50,341.80 L65.00,341.80 L65.50,341.80 L66.00,341.80 L66.50,341.80 L67.00,341.80 L67.50,341.80 L68.00,341.80 L68.50,341.80 L69.00,341.80 L69.50,341.80 L70.00,341.80 L70.50,341.80 L71.00,341.80 L71.50,341.80 L72.00,341.80 L72.50,341.80 L73.00,341.80 L73.50,341.80 L74.00,341.80 L74.50,341.80 L75.00,341.80 L75.50,341.80 L76.00,341.80 L76.50,341.80 L77.00,341.80 L77.50,341.80 L78.00,341.80 L78.50,341.80 L79.00,341.80 L79.50,341.80 L80.00,341.80 L80.50,341.80 L81.00,341.80 L81.50,341.80 L82.00,341.80 L82.50,341.80 L83.00,341.80 L83.50,341.80 L84.00,341.80 L84.50,341.80 L85.00,341.80 L85.50,341.80 L86.00,341.80 L86.50,341.80 L87.00,341.80 L87.50,341.80 L88.00,341.80 L88.50,341.80 L89.00,341.80 L89.50,341.80 L90.00,341.80 L90.50,341.80 L91.00,341.80 L91.50,341.80 L92.00,341.80 L92.50,341.80 L93.00,341.80 L93.50,341.80 L94.00,341.80 L94.50,341.80 L95.00,341.80 L95.50,341.80 L96.00,341.80 L96.50,341.80 L97.00,341.80 L97.50,341.80 L98.00,341.80 L98.50,341.80 L99.00,341.80 L99.50,341.80 L100.00,341.80 L100.50,341.80 L101.00,341.80 L101.50,341.80 L102.00,341.80 L102.50,341.80 L103.00,341.80 L103.50,341.80 L104.00,341.80 L104.50,341.80 L105.00,341.79 L105.50,341.79 L106.00,341.79 L106.50,341.79 L107.00,341.79 L107.50,341.79 L108.00,341.79 L108.50,341.78 L109.00,341.78 L109.50,341.78 L110.00,341.77 L110.50,341.77 L111.00,341.76 L111.50,341.76 L112.00,341.75 L112.50,341.74 L113.00,341.73 L113.50,341.72 L114.00,341.71 L114.50,341.70 L115.00,341.68 L115.50,341.67 L116.00,341.65 L116.50,341.62 L117.00,341.60 L117.50,341.57 L118.00,341.54 L118.50,341.50 L119.00,341.46 L119.50,341.42 L120.00,341.37 L120.50,341.31 L121.00,341.25 L121.50,341.18 L122.00,341.10 L122.50,341.01 L123.00,340.91 L123.50,340.81 L124.00,340.69 L124.50,340.56 L125.00,340.42 L125.50,340.26 L126.00,340.08 L126.50,339.89 L127.00,339.68 L127.50,339.46 L128.00,339.21 L128.50,338.94 L129.00,338.64 L129.50,338.32 L130.00,337.97 L130.50,337.59 L131.00,337.19 L131.50,336.75 L132.00,336.27 L132.50,335.76 L133.00,335.21 L133.50,334.63 L134.00,334.00 L134.50,333.32 L135.00,332.61 L135.50,331.84 L136.00,331.03 L136.50,330.17 L137.00,329.25 L137.50,328.28 L138.00,327.26 L138.50,326.18 L139.00,325.04 L139.50,323.84 L140.00,322.59 L140.50,321.28 L141.00,319.90 L141.50,318.47 L142.00,316.97 L142.50,315.41 L143.00,313.80 L143.50,312.12 L144.00,310.39 L144.50,308.60 L145.00,306.75 L145.50,304.85 L146.00,302.89 L146.50,300.89 L147.00,298.84 L147.50,296.75 L148.00,294.61 L148.50,292.44 L149.00,290.24 L149.50,288.01 L150.00,285.75 L150.50,283.47 L151.00,281.17 L151.50,278.87 L152.00,276.56 L152.50,274.24 L153.00,271.94 L153.50,269.64 L154.00,267.37 L154.50,265.11 L155.00,262.88 L155.50,260.69 L156.00,258.54 L156.50,256.43 L157.00,254.38 L157.50,252.38 L158.00,250.44 L158.50,248.58 L159.00,246.78 L159.50,245.06 L160.00,243.43 L160.50,241.88 L161.00,240.42 L161.50,239.06 L162.00,237.79 L162.50,236.62 L163.00,235.55 L163.50,234.59 L164.00,233.73 L164.50,232.98 L165.00,232.33 L165.50,231.79 L166.00,231.36 L166.50,231.02 L167.00,230.79 L167.50,230.65 L168.00,230.60 L168.50,230.64 L169.00,230.80 L169.50,231.09 L170.00,231.51 L170.50,232.04 L171.00,232.70 L171.50,233.48 L172.00,234.37 L172.50,235.38 L173.00,236.49 L173.50,237.71 L174.00,239.04 L174.50,240.46 L175.00,241.98 L175.50,243.59 L176.00,245.27 L176.50,247.04 L177.00,248.88 L177.50,250.79 L178.00,252.76 L178.50,254.79 L179.00,256.86 L179.50,258.98 L180.00,261.14 L180.50,263.33 L181.00,265.55 L181.50,267.79 L182.00,270.05 L182.50,272.31 L183.00,274.58 L183.50,276.85 L184.00,279.12 L184.50,281.37 L185.00,283.61 L185.50,285.83 L186.00,288.03 L186.50,290.19 L187.00,292.33 L187.50,294.43 L188.00,296.50 L188.50,298.52 L189.00,300.50 L189.50,302.44 L190.00,304.32 L190.50,306.16 L191.00,307.94 L191.50,309.67 L192.00,311.35 L192.50,312.97 L193.00,314.54 L193.50,316.05 L194.00,317.51 L194.50,318.90 L195.00,320.25 L195.50,321.53 L196.00,322.77 L196.50,323.94 L197.00,325.07 L197.50,326.14 L198.00,327.16 L198.50,328.12 L199.00,329.04 L199.50,329.91 L200.00,330.73 L200.50,331.51 L201.00,332.25 L201.50,332.94 L202.00,333.59 L202.50,334.20 L203.00,334.78 L203.50,335.31 L204.00,335.82 L204.50,336.29 L205.00,336.73 L205.50,337.14 L206.00,337.52 L206.50,337.87 L207.00,338.20 L207.50,338.51 L208.00,338.79 L208.50,339.05 L209.00,339.30 L209.50,339.52 L210.00,339.72 L210.50,339.91 L211.00,340.09 L211.50,340.25 L212.00,340.39 L212.50,340.53 L213.00,340.65 L213.50,340.76 L214.00,340.86 L214.50,340.96 L215.00,341.04 L215.50,341.12 L216.00,341.19 L216.50,341.25 L217.00,341.31 L217.50,341.36 L218.00,341.41 L218.50,341.45 L219.00,341.49 L219.50,341.52 L220.00,341.55 L220.50,341.58 L221.00,341.60 L221.50,341.63 L222.00,341.65 L222.50,341.66 L223.00,341.68 L223.50,341.69 L224.00,341.71 L224.50,341.72 L225.00,341.73 L225.50,341.74 L226.00,341.74 L226.50,341.75 L227.00,341.76 L227.50,341.76 L228.00,341.77 L228.50,341.77 L229.00,341.78 L229.50,341.78 L230.00,341.78 L230.50,341.78 L231.00,341.79 L231.50,341.79 L232.00,341.79 L232.50,341.79 L233.00,341.79 L233.50,341.79 L234.00,341.79 L234.50,341.79 L235.00,341.80 L235.50,341.80 L236.00,341.80 L236.50,341.80 L237.00,341.80 L237.50,341.80 L238.00,341.80 L238.50,341.80 L239.00,341.80 L239.50,341.80 L240.00,341.80 L240.50,341.80 L241.00,341.80 L241.50,341.80 L242.00,341.80 L242.50,341.80 L243.00,341.80 L243.50,341.80 L244.00,341.80 L244.50,341.80 L245.00,341.80 L245.50,341.80 L246.00,341.80 L246.50,341.80 L247.00,341.80 L247.50,341.80 L248.00,341.80 L248.50,341.80 L249.00,341.80 L249.50,341.80 L250.00,341.80 L250.50,341.80 L251.00,341.80 L251.50,341.80 L252.00,341.80 L252.50,341.80 L253.00,341.80 L253.50,341.80 L254.00,341.80 L254.50,341.80 L255.00,341.80 L255.50,341.80 L256.00,341.80 L256.50,341.80 L257.00,341.80 L257.50,341.80 L258.00,341.80 L258.50,341.80 L259.00,341.80 L259.50,341.80 L260.00,341.80 L260.50,341.80 L261.00,341.80 L261.50,341.80 L262.00,341.80 L262.50,341.80 L263.00,341.80 L263.50,341.80 L264.00,341.80 L264.50,341.80 L265.00,341.80 L265.50,341.80 L266.00,341.80 L266.50,341.80 L267.00,341.80 L267.50,341.80 L268.00,341.80 L268.50,341.80 L269.00,341.80 L269.50,341.80 L270.00,341.80 L270.50,341.80 L271.00,341.80 L271.50,341.80 L272.00,341.80 L272.50,341.80 L273.00,341.80 L273.50,341.80 L274.00,341.80 L274.50,341.80 L275.00,341.80 L275.50,341.80 L276.00,341.80 L276.50,341.80 L277.00,341.80 L277.50,341.80 L278.00,341.80 L278.50,341.80 L279.00,341.80 L279.50,341.80 L280.00,341.80 L280.50,341.80 L281.00,341.80 L281.50,341.80 L282.00,341.80 L282.50,341.80 L283.00,341.80 L283.50,341.80 L284.00,341.80 L284.50,341.80 L285.00,341.80 L285.50,341.80 L286.00,341.80 L286.50,341.80 L287.00,341.80 L287.50,341.80 L288.00,341.80 L288.50,341.80 L289.00,341.80 L289.50,341.80 L290.00,341.80 L290.50,341.80 L291.00,341.80 L291.50,341.80 L292.00,341.80 L292.50,341.80 L293.00,341.80 L293.50,341.80 L294.00,341.80 L294.50,341.80 L295.00,341.80 L295.50,341.80 L296.00,341.80 L296.50,341.80 L297.00,341.80 L297.50,341.80 L298.00,341.80 L298.50,341.80 L299.00,341.80 L299.50,341.80 L300.00,341.80 L300.50,341.80 L301.00,341.80 L301.50,341.80 L302.00,341.80 L302.50,341.80 L303.00,341.80 L303.50,341.80 L304.00,341.80 L304.50,341.80 L305.00,341.80 L305.50,341.80 L306.00,341.80 L306.50,341.80 L307.00,341.80 L307.50,341.80 L308.00,341.80 L308.50,341.80 L309.00,341.80 L309.50,341.80 L310.00,341.80 L310.50,341.80 L311.00,341.80 L311.50,341.80 L312.00,341.80 L312.50,341.80 L313.00,341.80 L313.50,341.80 L314.00,341.80 L314.50,341.80 L315.00,341.80 L315.50,341.80 L316.00,341.80 L316.50,341.80 L317.00,341.80 L317.50,341.80 L318.00,341.80 L318.50,341.80 L319.00,341.80 L319.50,341.80"/><path d="M22.50,341.80 L23.00,341.80 L23.50,341.80 L24.00,341.80 L24.50,341.80 L25.00,341.80 L25.50,341.80 L26.00,341.80 L26.50,341.80 L27.00,341.80 L27.50,341.80 L28.00,341.80 L28.50,341.80 L29.00,341.80 L29.50,341.80 L30.00,341.80 L30.50,341.80 L31.00,341.80 L31.50,341.80 L32.00,341.80 L32.50,341.80 L33.00,341.80 L33.50,341.80 L34.00,341.80 L34.50,341.80 L35.00,341.80 L35.50,341.80 L36.00,341.80 L36.50,341.80 L37.00,341.80 L37.50,341.80 L38.00,341.80 L38.50,341.80 L39.00,341.80 L39.50,341.80 L40.00,341.80 L40.50,341.80 L41.00,341.80 L41.50,341.80 L42.00,341.80 L42.50,341.80 L43.00,341.80 L43.50,341.80 L44.00,341.80 L44.50,341.80 L45.00,341.80 L45.50,341.80 L46.00,341.80 L46.50,341.80 L47.00,341.80 L47.50,341.80 L48.00,341.80 L48.50,341.80 L49.00,341.80 L49.50,341.80 L50.00,341.80 L50.50,341.80 L51.00,341.80 L51.50,341.80 L52.00,341.80 L52.50,341.80 L53.00,341.80 L53.50,341.80 L54.00,341.80 L54.50,341.80 L55.00,341.80 L55.50,341.80 L56.00,341.80 L56.50,341.80 L57.00,341.80 L57.50,341.80 L58.00,341.80 L58.50,341.80 L59.00,341.80 L59.50,341.80 L60.00,341.80 L60.50,341.80 L61.00,341.80 L61.50,341.80 L62.00,341.80 L62.50,341.80 L63.00,341.80 L63.50,341.80 L64.00,341.80 L64.50,341.80 L65.00,341.80 L65.50,341.80 L66.00,341.80 L66.50,341.80 L67.00,341.80 L67.50,341.80 L68.00,341.80 L68.50,341.80 L69.00,341.80 L69.50,341.80 L70.00,341.80 L70.50,341.80 L71.00,341.80 L71.50,341.80 L72.00,341.80 L72.50,341.80 L73.00,341.80 L73.50,341.80 L74.00,341.80 L74.50,341.80 L75.00,341.80 L75.50,341.80 L76.00,341.80 L76.50,341.80 L77.00,341.80 L77.50,341.80 L78.00,341.80 L78.50,341.80 L79.00,341.80 L79.50,341.80 L80.00,341.80 L80.50,341.80 L81.00,341.80 L81.50,341.80 L82.00,341.80 L82.50,341.80 L83.00,341.80 L83.50,341.80 L84.00,341.80 L84.50,341.80 L85.00,341.80 L85.50,341.80 L86.00,341.80 L86.50,341.80 L87.00,341.80 L87.50,341.80 L88.00,341.80 L88.50,341.80 L89.00,341.80 L89.50,341.80 L90.00,341.80 L90.50,341.80 L91.00,341.80 L91.50,341.80 L92.00,341.80 L92.50,341.80 L93.00,341.80 L93.50,341.80 L94.00,341.80 L94.50,341.80 L95.00,341.80 L95.50,341.80 L96.00,341.80 L96.50,341.80 L97.00,341.80 L97.50,341.80 L98.00,341.80 L98.50,341.80 L99.00,341.80 L99.50,341.80 L100.00,341.80 L100.50,341.80 L101.00,341.80 L101.50,341.80 L102.00,341.80 L102.50,341.80 L103.00,341.80 L103.50,341.80 L104.00,341.80 L104.50,341.80 L105.00,341.80 L105.50,341.80 L106.00,341.80 L106.50,341.80 L107.00,341.80 L107.50,341.80 L108.00,341.80 L108.50,341.80 L109.00,341.80 L109.50,341.80 L110.00,341.80 L110.50,341.80 L111.00,341.80 L111.50,341.80 L112.00,341.80 L112.50,341.80 L113.00,341.80 L113.50,341.80 L114.00,341.80 L114.50,341.80 L115.00,341.80 L115.50,341.80 L116.00,341.80 L116.50,341.80 L117.00,341.80 L117.50,341.80 L118.00,341.80 L118.50,341.80 L119.00,341.80 L119.50,341.80 L120.00,341.80 L120.50,341.80 L121.00,341.80 L121.50,341.80 L122.00,341.80 L122.50,341.80 L123.00,341.80 L123.50,341.80 L124.00,341.80 L124.50,341.80 L125.00,341.79 L125.50,341.79 L126.00,341.79 L126.50,341.79 L127.00,341.79 L127.50,341.79 L128.00,341.79 L128.50,341.79 L129.00,341.79 L129.50,341.78 L130.00,341.78 L130.50,341.78 L131.00,341.78 L131.50,341.77 L132.00,341.77 L132.50,341.77 L133.00,341.76 L133.50,341.76 L134.00,341.75 L134.50,341.75 L135.00,341.74 L135.50,341.73 L136.00,341.73 L136.50,341.72 L137.00,341.71 L137.50,341.70 L138.00,341.69 L138.50,341.67 L139.00,341.66 L139.50,341.65 L140.00,341.63 L140.50,341.61 L141.00,341.59 L141.50,341.57 L142.00,341.55 L142.50,341.52 L143.00,341.49 L143.50,341.46 L144.00,341.43 L144.50,341.39 L145.00,341.35 L145.50,341.31 L146.00,341.26 L146.50,341.21 L147.00,341.15 L147.50,341.09 L148.00,341.03 L148.50,340.96 L149.00,340.89 L149.50,340.81 L150.00,340.72 L150.50,340.63 L151.00,340.52 L151.50,340.42 L152.00,340.30 L152.50,340.18 L153.00,340.05 L153.50,339.90 L154.00,339.75 L154.50,339.59 L155.00,339.42 L155.50,339.24 L156.00,339.05 L156.50,338.84 L157.00,338.62 L157.50,338.39 L158.00,338.15 L158.50,337.89 L159.00,337.62 L159.50,337.33 L160.00,337.03 L160.50,336.71 L161.00,336.37 L161.50,336.02 L162.00,335.65 L162.50,335.26 L163.00,334.85 L163.50,334.43 L164.00,333.99 L164.50,333.52 L165.00,333.04 L165.50,332.54 L166.00,332.02 L166.50,331.48 L167.00,330.92 L167.50,330.34 L168.00,329.73 L168.50,329.11 L169.00,328.47 L169.50,327.81 L170.00,327.13 L170.50,326.43 L171.00,325.71 L171.50,324.97 L172.00,324.22 L172.50,323.44 L173.00,322.65 L173.50,321.85 L174.00,321.03 L174.50,320.19 L175.00,319.35 L175.50,318.49 L176.00,317.62 L176.50,316.73 L177.00,315.85 L177.50,314.95 L178.00,314.05 L178.50,313.14 L179.00,312.23 L179.50,311.32 L180.00,310.41 L180.50,309.50 L181.00,308.60 L181.50,307.70 L182.00,306.81 L182.50,305.93 L183.00,305.06 L183.50,304.20 L184.00,303.35 L184.50,302.53 L185.00,301.72 L185.50,300.93 L186.00,300.16 L186.50,299.42 L187.00,298.71 L187.50,298.02 L188.00,297.36 L188.50,296.73 L189.00,296.14 L189.50,295.58 L190.00,295.05 L190.50,294.56 L191.00,294.11 L191.50,293.70 L192.00,293.32 L192.50,292.99 L193.00,292.71 L193.50,292.46 L194.00,292.26 L194.50,292.10 L195.00,291.99 L195.50,291.92 L196.00,291.90 L196.50,291.92 L197.00,291.98 L197.50,292.08 L198.00,292.22 L198.50,292.40 L199.00,292.61 L199.50,292.87 L200.00,293.16 L200.50,293.49 L201.00,293.86 L201.50,294.26 L202.00,294.69 L202.50,295.16 L203.00,295.66 L203.50,296.19 L204.00,296.76 L204.50,297.35 L205.00,297.97 L205.50,298.61 L206.00,299.28 L206.50,299.97 L207.00,300.68 L207.50,301.42 L208.00,302.17 L208.50,302.94 L209.00,303.72 L209.50,304.52 L210.00,305.33 L210.50,306.15 L211.00,306.99 L211.50,307.83 L212.00,308.67 L212.50,309.52 L213.00,310.37 L213.50,311.23 L214.00,312.09 L214.50,312.94 L215.00,313.79 L215.50,314.64 L216.00,315.49 L216.50,316.33 L217.00,317.16 L217.50,317.98 L218.00,318.80 L218.50,319.60 L219.00,320.40 L219.50,321.18 L220.00,321.95 L220.50,322.70 L221.00,323.44 L221.50,324.17 L222.00,324.88 L222.50,325.58 L223.00,326.26 L223.50,326.92 L224.00,327.57 L224.50,328.20 L225.00,328.81 L225.50,329.40 L226.00,329.98 L226.50,330.54 L227.00,331.08 L227.50,331.60 L228.00,332.10 L228.50,332.59 L229.00,333.06 L229.50,333.52 L230.00,333.95 L230.50,334.37 L231.00,334.77 L231.50,335.16 L232.00,335.53 L232.50,335.88 L233.00,336.22 L233.50,336.54 L234.00,336.85 L234.50,337.14 L235.00,337.42 L235.50,337.69 L236.00,337.94 L236.50,338.18 L237.00,338.41 L237.50,338.63 L238.00,338.83 L238.50,339.03 L239.00,339.21 L239.50,339.38 L240.00,339.55 L240.50,339.70 L241.00,339.85 L241.50,339.98 L242.00,340.11 L242.50,340.23 L243.00,340.34 L243.50,340.45 L244.00,340.55 L244.50,340.64 L245.00,340.73 L245.50,340.81 L246.00,340.89 L246.50,340.96 L247.00,341.02 L247.50,341.08 L248.00,341.14 L248.50,341.19 L249.00,341.24 L249.50,341.29 L250.00,341.33 L250.50,341.37 L251.00,341.41 L251.50,341.44 L252.00,341.47 L252.50,341.50 L253.00,341.52 L253.50,341.55 L254.00,341.57 L254.50,341.59 L255.00,341.61 L255.50,341.63 L256.00,341.64 L256.50,341.66 L257.00,341.67 L257.50,341.68 L258.00,341.69 L258.50,341.70 L259.00,341.71 L259.50,341.72 L260.00,341.73 L260.50,341.74 L261.00,341.74 L261.50,341.75 L262.00,341.75 L262.50,341.76 L263.00,341.76 L263.50,341.77 L264.00,341.77 L264.50,341.77 L265.00,341.78 L265.50,341.78 L266.00,341.78 L266.50,341.78 L267.00,341.78 L267.50,341.79 L268.00,341.79 L268.50,341.79 L269.00,341.79 L269.50,341.79 L270.00,341.79 L270.50,341.79 L271.00,341.79 L271.50,341.79 L272.00,341.80 L272.50,341.80 L273.00,341.80 L273.50,341.80 L274.00,341.80 L274.50,341.80 L275.00,341.80 L275.50,341.80 L276.00,341.80 L276.50,341.80 L277.00,341.80 L277.50,341.80 L278.00,341.80 L278.50,341.80 L279.00,341.80 L279.50,341.80 L280.00,341.80 L280.50,341.80 L281.00,341.80 L281.50,341.80 L282.00,341.80 L282.50,341.80 L283.00,341.80 L283.50,341.80 L284.00,341.80 L284.50,341.80 L285.00,341.80 L285.50,341.80 L286.00,341.80 L286.50,341.80 L287.00,341.80 L287.50,341.80 L288.00,341.80 L288.50,341.80 L289.00,341.80 L289.50,341.80 L290.00,341.80 L290.50,341.80 L291.00,341.80 L291.50,341.80 L292.00,341.80 L292.50,341.80 L293.00,341.80 L293.50,341.80 L294.00,341.80 L294.50,341.80 L295.00,341.80 L295.50,341.80 L296.00,341.80 L296.50,341.80 L297.00,341.80 L297.50,341.80 L298.00,341.80 L298.50,341.80 L299.00,341.80 L299.50,341.80 L300.00,341.80 L300.50,341.80 L301.00,341.80 L301.50,341.80 L302.00,341.80 L302.50,341.80 L303.00,341.80 L303.50,341.80 L304.00,341.80 L304.50,341.80 L305.00,341.80 L305.50,341.80 L306.00,341.80 L306.50,341.80 L307.00,341.80 L307.50,341.80 L308.00,341.80 L308.50,341.80 L309.00,341.80 L309.50,341.80 L310.00,341.80 L310.50,341.80 L311.00,341.80 L311.50,341.80 L312.00,341.80 L312.50,341.80 L313.00,341.80 L313.50,341.80 L314.00,341.80 L314.50,341.80 L315.00,341.80 L315.50,341.80 L316.00,341.80 L316.50,341.80 L317.00,341.80 L317.50,341.80 L318.00,341.80 L318.50,341.80 L319.00,341.80 L319.50,341.80"/><path d="M22.50,341.80 L23.00,341.80 L23.50,341.80 L24.00,341.80 L24.50,341.80 L25.00,341.80 L25.50,341.80 L26.00,341.80 L26.50,341.80 L27.00,341.80 L27.50,341.80 L28.00,341.80 L28.50,341.80 L29.00,341.80 L29.50,341.80 L30.00,341.80 L30.50,341.80 L31.00,341.80 L31.50,341.80 L32.00,341.80 L32.50,341.80 L33.00,341.80 L33.50,341.80 L34.00,341.80 L34.50,341.80 L35.00,341.80 L35.50,341.80 L36.00,341.80 L36.50,341.80 L37.00,341.80 L37.50,341.80 L38.00,341.80 L38.50,341.80 L39.00,341.80 L39.50,341.80 L40.00,341.80 L40.50,341.80 L41.00,341.80 L41.50,341.80 L42.00,341.80 L42.50,341.80 L43.00,341.80 L43.50,341.80 L44.00,341.80 L44.50,341.80 L45.00,341.80 L45.50,341.80 L46.00,341.80 L46.50,341.80 L47.00,341.80 L47.50,341.80 L48.00,341.80 L48.50,341.80 L49.00,341.80 L49.50,341.80 L50.00,341.80 L50.50,341.80 L51.00,341.80 L51.50,341.80 L52.00,341.80 L52.50,341.80 L53.00,341.80 L53.50,341.80 L54.00,341.80 L54.50,341.80 L55.00,341.80 L55.50,341.80 L56.00,341.80 L56.50,341.80 L57.00,341.80 L57.50,341.80 L58.00,341.80 L58.50,341.80 L59.00,341.80 L59.50,341.80 L60.00,341.80 L60.50,341.80 L61.00,341.80 L61.50,341.80 L62.00,341.80 L62.50,341.80 L63.00,341.80 L63.50,341.80 L64.00,341.80 L64.50,341.80 L65.00,341.80 L65.50,341.80 L66.00,341.80 L66.50,341.80 L67.00,341.80 L67.50,341.80 L68.00,341.80 L68.50,341.80 L69.00,341.80 L69.50,341.80 L70.00,341.80 L70.50,341.80 L71.00,341.80 L71.50,341.80 L72.00,341.80 L72.50,341.80 L73.00,341.80 L73.50,341.80 L74.00,341.80 L74.50,341.80 L75.00,341.80 L75.50,341.80 L76.00,341.80 L76.50,341.80 L77.00,341.80 L77.50,341.80 L78.00,341.80 L78.50,341.80 L79.00,341.80 L79.50,341.80 L80.00,341.80 L80.50,341.80 L81.00,341.80 L81.50,341.80 L82.00,341.80 L82.50,341.80 L83.00,341.80 L83.50,341.80 L84.00,341.80 L84.50,341.80 L85.00,341.80 L85.50,341.80 L86.00,341.80 L86.50,341.80 L87.00,341.80 L87.50,341.80 L88.00,341.80 L88.50,341.80 L89.00,341.80 L89.50,341.80 L90.00,341.80 L90.50,341.80 L91.00,341.80 L91.50,341.80 L92.00,341.80 L92.50,341.80 L93.00,341.80 L93.50,341.80 L94.00,341.80 L94.50,341.80 L95.00,341.80 L95.50,341.80 L96.00,341.80 L96.50,341.80 L97.00,341.80 L97.50,341.80 L98.00,341.80 L98.50,341.80 L99.00,341.80 L99.50,341.80 L100.00,341.80 L100.50,341.80 L101.00,341.80 L101.50,341.80 L102.00,341.80 L102.50,341.80 L103.00,341.80 L103.50,341.80 L104.00,341.80 L104.50,341.80 L105.00,341.80 L105.50,341.80 L106.00,341.80 L106.50,341.80 L107.00,341.80 L107.50,341.80 L108.00,341.80 L108.50,341.80 L109.00,341.80 L109.50,341.80 L110.00,341.80 L110.50,341.80 L111.00,341.80 L111.50,341.80 L112.00,341.80 L112.50,341.80 L113.00,341.80 L113.50,341.80 L114.00,341.80 L114.50,341.80 L115.00,341.80 L115.50,341.80 L116.00,341.80 L116.50,341.80 L117.00,341.80 L117.50,341.80 L118.00,341.80 L118.50,341.80 L119.00,341.80 L119.50,341.80 L120.00,341.80 L120.50,341.80 L121.00,341.80 L121.50,341.80 L122.00,341.80 L122.50,341.80 L123.00,341.80 L123.50,341.80 L124.00,341.80 L124.50,341.80 L125.00,341.80 L125.50,341.80 L126.00,341.80 L126.50,341.80 L127.00,341.80 L127.50,341.80 L128.00,341.80 L128.50,341.80 L129.00,341.80 L129.50,341.80 L130.00,341.80 L130.50,341.80 L131.00,341.80 L131.50,341.80 L132.00,341.80 L132.50,341.80 L133.00,341.80 L133.50,341.80 L134.00,341.80 L134.50,341.80 L135.00,341.80 L135.50,341.80 L136.00,341.80 L136.50,341.80 L137.00,341.80 L137.50,341.80 L138.00,341.80 L138.50,341.80 L139.00,341.80 L139.50,341.80 L140.00,341.80 L140.50,341.80 L141.00,341.80 L141.50,341.80 L142.00,341.80 L142.50,341.80 L143.00,341.80 L143.50,341.80 L144.00,341.80 L144.50,341.80 L145.00,341.80 L145.50,341.80 L146.00,341.80 L146.50,341.80 L147.00,341.80 L147.50,341.80 L148.00,341.80 L148.50,341.80 L149.00,341.80 L149.50,341.80 L150.00,341.80 L150.50,341.80 L151.00,341.80 L151.50,341.80 L152.00,341.80 L152.50,341.80 L153.00,341.80 L153.50,341.80 L154.00,341.80 L154.50,341.80 L155.00,341.80 L155.50,341.80 L156.00,341.80 L156.50,341.80 L157.00,341.80 L157.50,341.80 L158.00,341.80 L158.50,341.80 L159.00,341.80 L159.50,341.80 L160.00,341.80 L160.50,341.80 L161.00,341.80 L161.50,341.80 L162.00,341.80 L162.50,341.80 L163.00,341.80 L163.50,341.80 L164.00,341.80 L164.50,341.80 L165.00,341.80 L165.50,341.80 L166.00,341.80 L166.50,341.80 L167.00,341.80 L167.50,341.80 L168.00,341.80 L168.50,341.80 L169.00,341.80 L169.50,341.80 L170.00,341.80 L170.50,341.80 L171.00,341.80 L171.50,341.80 L172.00,341.80 L172.50,341.80 L173.00,341.80 L173.50,341.80 L174.00,341.80 L174.50,341.80 L175.00,341.80 L175.50,341.80 L176.00,341.80 L176.50,341.80 L177.00,341.80 L177.50,341.80 L178.00,341.80 L178.50,341.80 L179.00,341.80 L179.50,341.80 L180.00,341.80 L180.50,341.80 L181.00,341.80 L181.50,341.80 L182.00,341.80 L182.50,341.80 L183.00,341.80 L183.50,341.80 L184.00,341.80 L184.50,341.80 L185.00,341.80 L185.50,341.80 L186.00,341.80 L186.50,341.80 L187.00,341.80 L187.50,341.80 L188.00,341.80 L188.50,341.80 L189.00,341.80 L189.50,341.80 L190.00,341.80 L190.50,341.80 L191.00,341.80 L191.50,341.80 L192.00,341.80 L192.50,341.80 L193.00,341.80 L193.50,341.80 L194.00,341.80 L194.50,341.80 L195.00,341.80 L195.50,341.80 L196.00,341.80 L196.50,341.80 L197.00,341.80 L197.50,341.80 L198.00,341.80 L198.50,341.80 L199.00,341.80 L199.50,341.80 L200.00,341.80 L200.50,341.80 L201.00,341.80 L201.50,341.80 L202.00,341.80 L202.50,341.80 L203.00,341.80 L203.50,341.80 L204.00,341.80 L204.50,341.80 L205.00,341.80 L205.50,341.80 L206.00,341.80 L206.50,341.80 L207.00,341.80 L207.50,341.80 L208.00,341.80 L208.50,341.80 L209.00,341.80 L209.50,341.80 L210.00,341.80 L210.50,341.80 L211.00,341.80 L211.50,341.80 L212.00,341.80 L212.50,341.80 L213.00,341.80 L213.50,341.80 L214.00,341.80 L214.50,341.80 L215.00,341.80 L215.50,341.80 L216.00,341.80 L216.50,341.80 L217.00,341.80 L217.50,341.80 L218.00,341.80 L218.50,341.80 L219.00,341.80 L219.50,341.80 L220.00,341.80 L220.50,341.80 L221.00,341.80 L221.50,341.80 L222.00,341.80 L222.50,341.80 L223.00,341.80 L223.50,341.80 L224.00,341.80 L224.50,341.80 L225.00,341.80 L225.50,341.80 L226.00,341.80 L226.50,341.80 L227.00,341.80 L227.50,341.80 L228.00,341.80 L228.50,341.80 L229.00,341.80 L229.50,341.80 L230.00,341.80 L230.50,341.80 L231.00,341.80 L231.50,341.80 L232.00,341.80 L232.50,341.80 L233.00,341.80 L233.50,341.80 L234.00,341.80 L234.50,341.80 L235.00,341.80 L235.50,341.80 L236.00,341.80 L236.50,341.80 L237.00,341.80 L237.50,341.80 L238.00,341.80 L238.50,341.80 L239.00,341.80 L239.50,341.80 L240.00,341.80 L240.50,341.80 L241.00,341.80 L241.50,341.80 L242.00,341.80 L242.50,341.80 L243.00,341.80 L243.50,341.80 L244.00,341.80 L244.50,341.80 L245.00,341.80 L245.50,341.80 L246.00,341.80 L246.50,341.80 L247.00,341.80 L247.50,341.80 L248.00,341.80 L248.50,341.80 L249.00,341.80 L249.50,341.80 L250.00,341.80 L250.50,341.80 L251.00,341.80 L251.50,341.80 L252.00,341.80 L252.50,341.80 L253.00,341.80 L253.50,341.80 L254.00,341.80 L254.50,341.80 L255.00,341.80 L255.50,341.80 L256.00,341.80 L256.50,341.80 L257.00,341.80 L257.50,341.80 L258.00,341.80 L258.50,341.80 L259.00,341.80 L259.50,341.80 L260.00,341.80 L260.50,341.80 L261.00,341.80 L261.50,341.80 L262.00,341.80 L262.50,341.80 L263.00,341.80 L263.50,341.80 L264.00,341.80 L264.50,341.80 L265.00,341.80 L265.50,341.80 L266.00,341.80 L266.50,341.80 L267.00,341.80 L267.50,341.80 L268.00,341.80 L268.50,341.80 L269.00,341.80 L269.50,341.80 L270.00,341.80 L270.50,341.80 L271.00,341.80 L271.50,341.79 L272.00,341.79 L272.50,341.79 L273.00,341.79 L273.50,341.78 L274.00,341.78 L274.50,341.77 L275.00,341.77 L275.50,341.76 L276.00,341.75 L276.50,341.74 L277.00,341.72 L277.50,341.71 L278.00,341.69 L278.50,341.66 L279.00,341.63 L279.50,341.60 L280.00,341.56 L280.50,341.52 L281.00,341.46 L281.50,341.40 L282.00,341.33 L282.50,341.25 L283.00,341.16 L283.50,341.06 L284.00,340.94 L284.50,340.81 L285.00,340.67 L285.50,340.51 L286.00,340.33 L286.50,340.14 L287.00,339.93 L287.50,339.71 L288.00,339.47 L288.50,339.21 L289.00,338.94 L289.50,338.65 L290.00,338.35 L290.50,338.04 L291.00,337.71 L291.50,337.38 L292.00,337.05 L292.50,336.71 L293.00,336.37 L293.50,336.03 L294.00,335.70 L294.50,335.38 L295.00,335.08 L295.50,334.79 L296.00,334.51 L296.50,334.27 L297.00,334.05 L297.50,333.85 L298.00,333.69 L298.50,333.57 L299.00,333.47 L299.50,333.42 L300.00,333.40 L300.50,333.42 L301.00,333.47 L301.50,333.57 L302.00,333.69 L302.50,333.85 L303.00,334.05 L303.50,334.27 L304.00,334.51 L304.50,334.79 L305.00,335.08 L305.50,335.38 L306.00,335.70 L306.50,336.03 L307.00,336.37 L307.50,336.71 L308.00,337.05 L308.50,337.38 L309.00,337.71 L309.50,338.04 L310.00,338.35 L310.50,338.65 L311.00,338.94 L311.50,339.21 L312.00,339.47 L312.50,339.71 L313.00,339.93 L313.50,340.14 L314.00,340.33 L314.50,340.51 L315.00,340.67 L315.50,340.81 L316.00,340.94 L316.50,341.06 L317.00,341.16 L317.50,341.25 L318.00,341.33 L318.50,341.40 L319.00,341.46 L319.50,341.52"/></g><line x1="129.6" y1="5.8" x2="129.6" y2="11.899999999999999" stroke="#000" stroke-width="1.05"/><path d="M129.6,22.4 L127.1,10.899999999999999 L132.1,10.899999999999999 Z" fill="#000"/><line x1="97.5" y1="63.2" x2="122.80000000000001" y2="63.2" stroke="#000" stroke-width="1.05"/><path d="M132.8,63.2 L121.80000000000001,60.900000000000006 L121.80000000000001,65.5 Z" fill="#000"/><line x1="75.1" y1="87.8" x2="100.5" y2="87.8" stroke="#000" stroke-width="1.05"/><path d="M110.5,87.8 L99.5,85.3 L99.5,90.3 Z" fill="#000"/><line x1="167.4" y1="174.7" x2="167.4" y2="190.5" stroke="#000" stroke-width="1.05"/><path d="M167.4,201.0 L165.0,189.5 L169.8,189.5 Z" fill="#000"/><line x1="125.9" y1="240.5" x2="151.5" y2="240.5" stroke="#000" stroke-width="1.05"/><path d="M161.5,240.5 L150.5,238.2 L150.5,242.8 Z" fill="#000"/><line x1="97.5" y1="313.2" x2="122.6" y2="313.2" stroke="#000" stroke-width="1.05"/><path d="M132.6,313.2 L121.6,310.9 L121.6,315.5 Z" fill="#000"/><line x1="230.5" y1="268.2" x2="207.67" y2="286.13" stroke="#000" stroke-width="1.05"/><path d="M199.8,292.3 L206.72,283.31 L210.18,287.71 Z" fill="#000"/><line x1="299.7" y1="294.0" x2="299.7" y2="318.5" stroke="#000" stroke-width="1.05"/><path d="M299.7,329.0 L297.4,317.5 L302.0,317.5 Z" fill="#000"/>
<g class="tx"><text transform="translate(137.35,14.80) scale(0.953,1)" font-size="14.5" font-weight="normal" font-style="normal">QW</text><text transform="translate(207.85,26.70) scale(0.953,1)" font-size="14.5" font-weight="normal" font-style="italic">I</text><text transform="translate(211.36,32.70) scale(0.953,1)" font-size="8.5" font-weight="normal" font-style="normal">ex</text><text transform="translate(222.72,26.70) scale(0.953,1)" font-size="14.5" font-weight="normal" font-style="normal">= 6 mW/cm</text><text transform="translate(293.19,19.30) scale(0.953,1)" font-size="8.5" font-weight="normal" font-style="normal">2</text><text transform="translate(81.57,57.80) scale(0.953,1)" font-size="14.5" font-weight="normal" font-style="normal">E</text><text transform="translate(91.15,50.60) scale(0.953,1)" font-size="7.8" font-weight="normal" font-style="normal">QW</text><text transform="translate(91.01,63.30) scale(0.953,1)" font-size="8.5" font-weight="normal" font-style="normal">X</text><text transform="translate(59.87,89.30) scale(0.953,1)" font-size="14.5" font-weight="normal" font-style="normal">E</text><text transform="translate(68.94,81.50) scale(0.953,1)" font-size="8.5" font-weight="normal" font-style="normal">B</text><text transform="translate(68.71,93.90) scale(0.953,1)" font-size="8.5" font-weight="normal" font-style="normal">X</text><text transform="translate(289.70,131.50) scale(0.953,1)" font-size="20" font-weight="normal" font-style="normal">a)</text><text transform="translate(138.05,191.60) scale(0.953,1)" font-size="14.5" font-weight="normal" font-style="normal">QW</text><text transform="translate(191.50,218.00) scale(0.953,1)" font-size="14.5" font-weight="normal" font-style="italic">I</text><text transform="translate(194.36,224.30) scale(0.953,1)" font-size="8.5" font-weight="normal" font-style="normal">ex</text><text transform="translate(203.22,218.20) scale(0.953,1)" font-size="14.5">=</text><path transform="translate(211.29,218.20) scale(13.819,14.5)" d="M0.285,0 L0.373,0 L0.373,-0.716 L0.316,-0.716 C0.29,-0.66 0.22,-0.6 0.109,-0.56 L0.109,-0.475 C0.19,-0.505 0.25,-0.54 0.285,-0.575 Z" vector-effect="non-scaling-stroke"/><text transform="translate(218.98,218.20) scale(0.953,1)" font-size="14.5">.0x</text><path transform="translate(237.41,218.20) scale(13.819,14.5)" d="M0.285,0 L0.373,0 L0.373,-0.716 L0.316,-0.716 C0.29,-0.66 0.22,-0.6 0.109,-0.56 L0.109,-0.475 C0.19,-0.505 0.25,-0.54 0.285,-0.575 Z" vector-effect="non-scaling-stroke"/><text transform="translate(245.10,218.20) scale(0.953,1)" font-size="14.5">0</text><text transform="translate(252.31,210.90) scale(0.953,1)" font-size="8.5" font-weight="normal" font-style="normal">4</text><text transform="translate(260.03,218.20) scale(0.953,1)" font-size="14.5" font-weight="normal" font-style="normal">W/cm</text><text transform="translate(295.59,211.30) scale(0.953,1)" font-size="8.5" font-weight="normal" font-style="normal">2</text><text transform="translate(109.07,236.70) scale(0.953,1)" font-size="14.5" font-weight="normal" font-style="normal">E</text><text transform="translate(118.15,229.20) scale(0.953,1)" font-size="7.8" font-weight="normal" font-style="normal">QW</text><text transform="translate(118.31,242.30) scale(0.953,1)" font-size="8.5" font-weight="normal" font-style="normal">X</text><text transform="translate(81.27,306.50) scale(0.953,1)" font-size="14.5" font-weight="normal" font-style="normal">E</text><text transform="translate(90.64,298.90) scale(0.953,1)" font-size="8.5" font-weight="normal" font-style="normal">B</text><text transform="translate(90.41,312.00) scale(0.953,1)" font-size="8.5" font-weight="normal" font-style="normal">X</text><text transform="translate(223.67,262.70) scale(0.953,1)" font-size="14.5" font-weight="normal" font-style="normal">E</text><text transform="translate(233.06,255.60) scale(0.953,1)" font-size="8.5" font-weight="normal" font-style="normal">ex</text><text transform="translate(232.91,268.00) scale(0.953,1)" font-size="8.5" font-weight="normal" font-style="normal">X</text><text transform="translate(277.07,296.00) scale(0.953,1)" font-size="14.5" font-weight="normal" font-style="normal">E</text><text transform="translate(285.99,288.90) scale(0.953,1)" font-size="8.5" font-weight="normal" font-style="normal">GaAs</text><text transform="translate(286.21,301.60) scale(0.953,1)" font-size="8.5" font-weight="normal" font-style="normal">X</text><text transform="translate(290.81,253.70) scale(0.953,1)" font-size="20" font-weight="normal" font-style="normal">b)</text><path transform="translate(36.80,357.40) scale(14.295,15)" d="M0.285,0 L0.373,0 L0.373,-0.716 L0.316,-0.716 C0.29,-0.66 0.22,-0.6 0.109,-0.56 L0.109,-0.475 C0.19,-0.505 0.25,-0.54 0.285,-0.575 Z" vector-effect="non-scaling-stroke"/><text transform="translate(44.75,357.40) scale(0.953,1)" font-size="15">.0</text><path transform="translate(86.57,357.40) scale(14.295,15)" d="M0.285,0 L0.373,0 L0.373,-0.716 L0.316,-0.716 C0.29,-0.66 0.22,-0.6 0.109,-0.56 L0.109,-0.475 C0.19,-0.505 0.25,-0.54 0.285,-0.575 Z" vector-effect="non-scaling-stroke"/><text transform="translate(94.52,357.40) scale(0.953,1)" font-size="15">.</text><path transform="translate(98.49,357.40) scale(14.295,15)" d="M0.285,0 L0.373,0 L0.373,-0.716 L0.316,-0.716 C0.29,-0.66 0.22,-0.6 0.109,-0.56 L0.109,-0.475 C0.19,-0.505 0.25,-0.54 0.285,-0.575 Z" vector-effect="non-scaling-stroke"/><path transform="translate(136.28,357.40) scale(14.295,15)" d="M0.285,0 L0.373,0 L0.373,-0.716 L0.316,-0.716 C0.29,-0.66 0.22,-0.6 0.109,-0.56 L0.109,-0.475 C0.19,-0.505 0.25,-0.54 0.285,-0.575 Z" vector-effect="non-scaling-stroke"/><text transform="translate(144.23,357.40) scale(0.953,1)" font-size="15">.2</text><path transform="translate(185.94,357.40) scale(14.295,15)" d="M0.285,0 L0.373,0 L0.373,-0.716 L0.316,-0.716 C0.29,-0.66 0.22,-0.6 0.109,-0.56 L0.109,-0.475 C0.19,-0.505 0.25,-0.54 0.285,-0.575 Z" vector-effect="non-scaling-stroke"/><text transform="translate(193.89,357.40) scale(0.953,1)" font-size="15">.3</text><path transform="translate(235.53,357.40) scale(14.295,15)" d="M0.285,0 L0.373,0 L0.373,-0.716 L0.316,-0.716 C0.29,-0.66 0.22,-0.6 0.109,-0.56 L0.109,-0.475 C0.19,-0.505 0.25,-0.54 0.285,-0.575 Z" vector-effect="non-scaling-stroke"/><text transform="translate(243.48,357.40) scale(0.953,1)" font-size="15">.4</text><path transform="translate(285.32,357.40) scale(14.295,15)" d="M0.285,0 L0.373,0 L0.373,-0.716 L0.316,-0.716 C0.29,-0.66 0.22,-0.6 0.109,-0.56 L0.109,-0.475 C0.19,-0.505 0.25,-0.54 0.285,-0.575 Z" vector-effect="non-scaling-stroke"/><text transform="translate(293.27,357.40) scale(0.953,1)" font-size="15">.5</text><text transform="translate(105.14,381.00) scale(0.953,1)" font-size="15" font-weight="bold" font-style="normal">Photon Energy (eV)</text><text transform="translate(10.6,246.6) rotate(-90) scale(1,0.953)" font-size="15" font-weight="bold">Normalized PL intensity</text></g>
</svg>
</body></html>
